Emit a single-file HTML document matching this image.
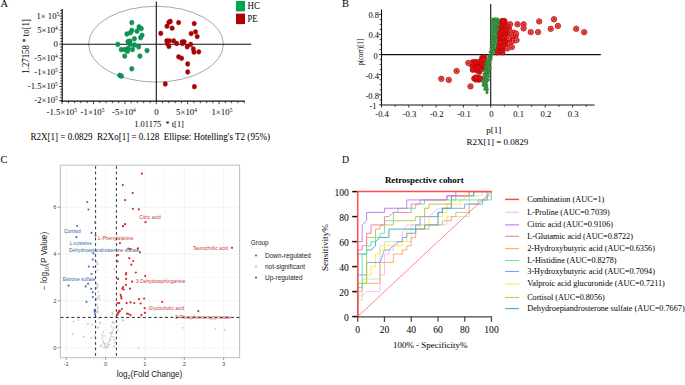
<!DOCTYPE html>
<html><head><meta charset="utf-8"><style>
html,body{margin:0;padding:0;background:#fff;width:685px;height:385px;overflow:hidden;}
svg{display:block;}
</style></head><body>
<svg width="685" height="385" viewBox="0 0 685 385">
<rect width="685" height="385" fill="#fff"/>
<text x="0.6" y="7.0" font-size="10.5" text-anchor="start" font-family='"Liberation Serif", serif' fill="#000" font-weight="normal" >A</text>
<ellipse cx="156" cy="44.2" rx="67.4" ry="37.9" fill="none" stroke="#777" stroke-width="0.65"/>
<line x1="62.2" y1="8.9" x2="62.2" y2="101.5" stroke="#111" stroke-width="1.2" />
<line x1="59.2" y1="100.6" x2="62.2" y2="100.6" stroke="#111" stroke-width="0.8" />
<line x1="60.2" y1="97.78" x2="62.2" y2="97.78" stroke="#111" stroke-width="0.8" />
<line x1="60.2" y1="94.96" x2="62.2" y2="94.96" stroke="#111" stroke-width="0.8" />
<line x1="60.2" y1="92.14" x2="62.2" y2="92.14" stroke="#111" stroke-width="0.8" />
<line x1="60.2" y1="89.32" x2="62.2" y2="89.32" stroke="#111" stroke-width="0.8" />
<line x1="59.2" y1="86.5" x2="62.2" y2="86.5" stroke="#111" stroke-width="0.8" />
<line x1="60.2" y1="83.68" x2="62.2" y2="83.68" stroke="#111" stroke-width="0.8" />
<line x1="60.2" y1="80.86" x2="62.2" y2="80.86" stroke="#111" stroke-width="0.8" />
<line x1="60.2" y1="78.04" x2="62.2" y2="78.04" stroke="#111" stroke-width="0.8" />
<line x1="60.2" y1="75.22" x2="62.2" y2="75.22" stroke="#111" stroke-width="0.8" />
<line x1="59.2" y1="72.4" x2="62.2" y2="72.4" stroke="#111" stroke-width="0.8" />
<line x1="60.2" y1="69.58" x2="62.2" y2="69.58" stroke="#111" stroke-width="0.8" />
<line x1="60.2" y1="66.76" x2="62.2" y2="66.76" stroke="#111" stroke-width="0.8" />
<line x1="60.2" y1="63.94" x2="62.2" y2="63.94" stroke="#111" stroke-width="0.8" />
<line x1="60.2" y1="61.12" x2="62.2" y2="61.12" stroke="#111" stroke-width="0.8" />
<line x1="59.2" y1="58.3" x2="62.2" y2="58.3" stroke="#111" stroke-width="0.8" />
<line x1="60.2" y1="55.48" x2="62.2" y2="55.48" stroke="#111" stroke-width="0.8" />
<line x1="60.2" y1="52.66" x2="62.2" y2="52.66" stroke="#111" stroke-width="0.8" />
<line x1="60.2" y1="49.84" x2="62.2" y2="49.84" stroke="#111" stroke-width="0.8" />
<line x1="60.2" y1="47.02" x2="62.2" y2="47.02" stroke="#111" stroke-width="0.8" />
<line x1="59.2" y1="44.2" x2="62.2" y2="44.2" stroke="#111" stroke-width="0.8" />
<line x1="60.2" y1="41.38" x2="62.2" y2="41.38" stroke="#111" stroke-width="0.8" />
<line x1="60.2" y1="38.56" x2="62.2" y2="38.56" stroke="#111" stroke-width="0.8" />
<line x1="60.2" y1="35.74" x2="62.2" y2="35.74" stroke="#111" stroke-width="0.8" />
<line x1="60.2" y1="32.92" x2="62.2" y2="32.92" stroke="#111" stroke-width="0.8" />
<line x1="59.2" y1="30.1" x2="62.2" y2="30.1" stroke="#111" stroke-width="0.8" />
<line x1="60.2" y1="27.28" x2="62.2" y2="27.28" stroke="#111" stroke-width="0.8" />
<line x1="60.2" y1="24.46" x2="62.2" y2="24.46" stroke="#111" stroke-width="0.8" />
<line x1="60.2" y1="21.64" x2="62.2" y2="21.64" stroke="#111" stroke-width="0.8" />
<line x1="60.2" y1="18.82" x2="62.2" y2="18.82" stroke="#111" stroke-width="0.8" />
<line x1="59.2" y1="16.0" x2="62.2" y2="16.0" stroke="#111" stroke-width="0.8" />
<line x1="60.2" y1="13.18" x2="62.2" y2="13.18" stroke="#111" stroke-width="0.8" />
<line x1="60.2" y1="10.36" x2="62.2" y2="10.36" stroke="#111" stroke-width="0.8" />
<line x1="60.8" y1="101.2" x2="244.7" y2="101.2" stroke="#111" stroke-width="1.2" />
<line x1="62.1" y1="101" x2="62.1" y2="104.2" stroke="#111" stroke-width="0.8" />
<line x1="68.38" y1="101" x2="68.38" y2="103.2" stroke="#111" stroke-width="0.8" />
<line x1="74.66" y1="101" x2="74.66" y2="103.2" stroke="#111" stroke-width="0.8" />
<line x1="80.94" y1="101" x2="80.94" y2="103.2" stroke="#111" stroke-width="0.8" />
<line x1="87.22" y1="101" x2="87.22" y2="103.2" stroke="#111" stroke-width="0.8" />
<line x1="93.5" y1="101" x2="93.5" y2="104.2" stroke="#111" stroke-width="0.8" />
<line x1="99.78" y1="101" x2="99.78" y2="103.2" stroke="#111" stroke-width="0.8" />
<line x1="106.06" y1="101" x2="106.06" y2="103.2" stroke="#111" stroke-width="0.8" />
<line x1="112.34" y1="101" x2="112.34" y2="103.2" stroke="#111" stroke-width="0.8" />
<line x1="118.62" y1="101" x2="118.62" y2="103.2" stroke="#111" stroke-width="0.8" />
<line x1="124.9" y1="101" x2="124.9" y2="104.2" stroke="#111" stroke-width="0.8" />
<line x1="131.18" y1="101" x2="131.18" y2="103.2" stroke="#111" stroke-width="0.8" />
<line x1="137.46" y1="101" x2="137.46" y2="103.2" stroke="#111" stroke-width="0.8" />
<line x1="143.74" y1="101" x2="143.74" y2="103.2" stroke="#111" stroke-width="0.8" />
<line x1="150.02" y1="101" x2="150.02" y2="103.2" stroke="#111" stroke-width="0.8" />
<line x1="156.3" y1="101" x2="156.3" y2="104.2" stroke="#111" stroke-width="0.8" />
<line x1="162.58" y1="101" x2="162.58" y2="103.2" stroke="#111" stroke-width="0.8" />
<line x1="168.86" y1="101" x2="168.86" y2="103.2" stroke="#111" stroke-width="0.8" />
<line x1="175.14" y1="101" x2="175.14" y2="103.2" stroke="#111" stroke-width="0.8" />
<line x1="181.42" y1="101" x2="181.42" y2="103.2" stroke="#111" stroke-width="0.8" />
<line x1="187.7" y1="101" x2="187.7" y2="104.2" stroke="#111" stroke-width="0.8" />
<line x1="193.98" y1="101" x2="193.98" y2="103.2" stroke="#111" stroke-width="0.8" />
<line x1="200.26" y1="101" x2="200.26" y2="103.2" stroke="#111" stroke-width="0.8" />
<line x1="206.54" y1="101" x2="206.54" y2="103.2" stroke="#111" stroke-width="0.8" />
<line x1="212.82" y1="101" x2="212.82" y2="103.2" stroke="#111" stroke-width="0.8" />
<line x1="219.1" y1="101" x2="219.1" y2="104.2" stroke="#111" stroke-width="0.8" />
<line x1="225.38" y1="101" x2="225.38" y2="103.2" stroke="#111" stroke-width="0.8" />
<line x1="231.66" y1="101" x2="231.66" y2="103.2" stroke="#111" stroke-width="0.8" />
<line x1="237.94" y1="101" x2="237.94" y2="103.2" stroke="#111" stroke-width="0.8" />
<line x1="244.22" y1="101" x2="244.22" y2="103.2" stroke="#111" stroke-width="0.8" />
<line x1="62.2" y1="44.2" x2="251.2" y2="44.2" stroke="#111" stroke-width="1.1" />
<line x1="156.3" y1="1.6" x2="156.3" y2="101" stroke="#111" stroke-width="1.1" />
<text x="36.4" y="18.7" font-size="8.7" text-anchor="start" font-family='"Liberation Serif", serif' fill="#000" font-weight="normal" >1× 10<tspan font-size="5.4" dy="-3">5</tspan></text>
<text x="57.8" y="32.9" font-size="8.7" text-anchor="end" font-family='"Liberation Serif", serif' fill="#000" font-weight="normal" >5×10<tspan font-size="5.4" dy="-3.0">4</tspan></text>
<text x="57.8" y="47.0" font-size="8.7" text-anchor="end" font-family='"Liberation Serif", serif' fill="#000" font-weight="normal" >0</text>
<text x="57.8" y="61.1" font-size="8.7" text-anchor="end" font-family='"Liberation Serif", serif' fill="#000" font-weight="normal" >-5×10<tspan font-size="5.4" dy="-3.0">4</tspan></text>
<text x="57.8" y="75.2" font-size="8.7" text-anchor="end" font-family='"Liberation Serif", serif' fill="#000" font-weight="normal" >-1×10<tspan font-size="5.4" dy="-3.0">5</tspan></text>
<text x="57.8" y="89.3" font-size="8.7" text-anchor="end" font-family='"Liberation Serif", serif' fill="#000" font-weight="normal" >-1.5×10<tspan font-size="5.4" dy="-3.0">5</tspan></text>
<text x="57.8" y="103.4" font-size="8.7" text-anchor="end" font-family='"Liberation Serif", serif' fill="#000" font-weight="normal" >-2×10<tspan font-size="5.4" dy="-3.0">5</tspan></text>
<text x="61.7" y="115.0" font-size="8.8" text-anchor="middle" font-family='"Liberation Serif", serif' fill="#000" font-weight="normal" >-1.5×10<tspan font-size="5.4" dy="-3.0">5</tspan></text>
<text x="92.5" y="115.0" font-size="8.8" text-anchor="middle" font-family='"Liberation Serif", serif' fill="#000" font-weight="normal" >-1×10<tspan font-size="5.4" dy="-3.0">5</tspan></text>
<text x="123.9" y="115.0" font-size="8.8" text-anchor="middle" font-family='"Liberation Serif", serif' fill="#000" font-weight="normal" >-5×10<tspan font-size="5.4" dy="-3.0">4</tspan></text>
<text x="156.4" y="115.0" font-size="8.8" text-anchor="middle" font-family='"Liberation Serif", serif' fill="#000" font-weight="normal" >0</text>
<text x="186.5" y="115.0" font-size="8.8" text-anchor="middle" font-family='"Liberation Serif", serif' fill="#000" font-weight="normal" >5×10<tspan font-size="5.4" dy="-3.0">4</tspan></text>
<text x="221.9" y="115.0" font-size="8.8" text-anchor="middle" font-family='"Liberation Serif", serif' fill="#000" font-weight="normal" >1×10<tspan font-size="5.4" dy="-3.0">5</tspan></text>
<text x="134.3" y="127.1" font-size="9" text-anchor="start" font-family='"Liberation Serif", serif' fill="#000" font-weight="normal" textLength="49.6" lengthAdjust="spacingAndGlyphs">1.01175&#160; * t[1]</text>
<text transform="translate(28.8,46.4) rotate(-90)" font-size="9.6" text-anchor="middle" font-family='"Liberation Serif", serif' textLength="54.7" lengthAdjust="spacingAndGlyphs">1.27158 * to[1]</text>
<text x="30.4" y="140.4" font-size="9.4" text-anchor="start" font-family='"Liberation Serif", serif' fill="#000" font-weight="normal" textLength="239.6" lengthAdjust="spacingAndGlyphs">R2X[1] = 0.0829&#160; R2Xo[1] = 0.128&#160; Ellipse: Hotelling's T2 (95%)</text>
<rect x="236" y="1" width="9" height="10.4" fill="#00a651"/>
<rect x="236" y="13.6" width="9" height="10.5" fill="#b20000"/>
<text x="247.5" y="8.9" font-size="9.8" text-anchor="start" font-family='"Liberation Serif", serif' fill="#000" font-weight="normal" textLength="12.4" lengthAdjust="spacingAndGlyphs">HC</text>
<text x="247.5" y="22.0" font-size="9.9" text-anchor="start" font-family='"Liberation Serif", serif' fill="#000" font-weight="normal" textLength="10.1" lengthAdjust="spacingAndGlyphs">PE</text>
<ellipse cx="131.8" cy="22.6" rx="2.2" ry="2.4" fill="#00a04a" stroke="#1a6b5a" stroke-width="0.5"/>
<ellipse cx="139" cy="26.9" rx="2.2" ry="2.4" fill="#00a04a" stroke="#1a6b5a" stroke-width="0.5"/>
<ellipse cx="141.3" cy="28.6" rx="2.2" ry="2.4" fill="#00a04a" stroke="#1a6b5a" stroke-width="0.5"/>
<ellipse cx="131.8" cy="30.5" rx="2.2" ry="2.4" fill="#00a04a" stroke="#1a6b5a" stroke-width="0.5"/>
<ellipse cx="137" cy="31.2" rx="2.2" ry="2.4" fill="#00a04a" stroke="#1a6b5a" stroke-width="0.5"/>
<ellipse cx="130.5" cy="32.7" rx="2.2" ry="2.4" fill="#00a04a" stroke="#1a6b5a" stroke-width="0.5"/>
<ellipse cx="126.9" cy="34" rx="2.2" ry="2.4" fill="#00a04a" stroke="#1a6b5a" stroke-width="0.5"/>
<ellipse cx="142" cy="35.3" rx="2.2" ry="2.4" fill="#00a04a" stroke="#1a6b5a" stroke-width="0.5"/>
<ellipse cx="140.6" cy="37.7" rx="2.2" ry="2.4" fill="#00a04a" stroke="#1a6b5a" stroke-width="0.5"/>
<ellipse cx="134.4" cy="38.8" rx="2.2" ry="2.4" fill="#00a04a" stroke="#1a6b5a" stroke-width="0.5"/>
<ellipse cx="127.9" cy="41.6" rx="2.2" ry="2.4" fill="#00a04a" stroke="#1a6b5a" stroke-width="0.5"/>
<ellipse cx="129.9" cy="41.2" rx="2.2" ry="2.4" fill="#00a04a" stroke="#1a6b5a" stroke-width="0.5"/>
<ellipse cx="117.8" cy="44.4" rx="2.2" ry="2.4" fill="#00a04a" stroke="#1a6b5a" stroke-width="0.5"/>
<ellipse cx="130.3" cy="44.4" rx="2.2" ry="2.4" fill="#00a04a" stroke="#1a6b5a" stroke-width="0.5"/>
<ellipse cx="134.4" cy="45" rx="2.2" ry="2.4" fill="#00a04a" stroke="#1a6b5a" stroke-width="0.5"/>
<ellipse cx="138.6" cy="46.8" rx="2.2" ry="2.4" fill="#00a04a" stroke="#1a6b5a" stroke-width="0.5"/>
<ellipse cx="121.2" cy="49.6" rx="2.2" ry="2.4" fill="#00a04a" stroke="#1a6b5a" stroke-width="0.5"/>
<ellipse cx="124.7" cy="49.6" rx="2.2" ry="2.4" fill="#00a04a" stroke="#1a6b5a" stroke-width="0.5"/>
<ellipse cx="127.9" cy="48.3" rx="2.2" ry="2.4" fill="#00a04a" stroke="#1a6b5a" stroke-width="0.5"/>
<ellipse cx="127.5" cy="51.3" rx="2.2" ry="2.4" fill="#00a04a" stroke="#1a6b5a" stroke-width="0.5"/>
<ellipse cx="132.5" cy="49.6" rx="2.2" ry="2.4" fill="#00a04a" stroke="#1a6b5a" stroke-width="0.5"/>
<ellipse cx="147" cy="50.6" rx="2.2" ry="2.4" fill="#00a04a" stroke="#1a6b5a" stroke-width="0.5"/>
<ellipse cx="124.7" cy="56.1" rx="2.2" ry="2.4" fill="#00a04a" stroke="#1a6b5a" stroke-width="0.5"/>
<ellipse cx="139.9" cy="56.1" rx="2.2" ry="2.4" fill="#00a04a" stroke="#1a6b5a" stroke-width="0.5"/>
<ellipse cx="131.8" cy="68.8" rx="2.2" ry="2.4" fill="#00a04a" stroke="#1a6b5a" stroke-width="0.5"/>
<ellipse cx="119.7" cy="75.3" rx="2.2" ry="2.4" fill="#00a04a" stroke="#1a6b5a" stroke-width="0.5"/>
<ellipse cx="121.4" cy="76.2" rx="2.2" ry="2.4" fill="#00a04a" stroke="#1a6b5a" stroke-width="0.5"/>
<ellipse cx="170.3" cy="21.4" rx="2.2" ry="2.4" fill="#b00000" stroke="#800000" stroke-width="0.4"/>
<ellipse cx="168.9" cy="22.3" rx="2.2" ry="2.4" fill="#b00000" stroke="#800000" stroke-width="0.4"/>
<ellipse cx="178.6" cy="22.6" rx="2.2" ry="2.4" fill="#b00000" stroke="#800000" stroke-width="0.4"/>
<ellipse cx="194.2" cy="23.6" rx="2.2" ry="2.4" fill="#b00000" stroke="#800000" stroke-width="0.4"/>
<ellipse cx="167" cy="26.2" rx="2.2" ry="2.4" fill="#b00000" stroke="#800000" stroke-width="0.4"/>
<ellipse cx="172.1" cy="28.2" rx="2.2" ry="2.4" fill="#b00000" stroke="#800000" stroke-width="0.4"/>
<ellipse cx="160.8" cy="33.4" rx="2.2" ry="2.4" fill="#b00000" stroke="#800000" stroke-width="0.4"/>
<ellipse cx="191.1" cy="33.6" rx="2.2" ry="2.4" fill="#b00000" stroke="#800000" stroke-width="0.4"/>
<ellipse cx="195.5" cy="31.8" rx="2.2" ry="2.4" fill="#b00000" stroke="#800000" stroke-width="0.4"/>
<ellipse cx="197.2" cy="36.6" rx="2.2" ry="2.4" fill="#b00000" stroke="#800000" stroke-width="0.4"/>
<ellipse cx="166.7" cy="40.8" rx="2.2" ry="2.4" fill="#b00000" stroke="#800000" stroke-width="0.4"/>
<ellipse cx="169.3" cy="40.8" rx="2.2" ry="2.4" fill="#b00000" stroke="#800000" stroke-width="0.4"/>
<ellipse cx="173.6" cy="40.8" rx="2.2" ry="2.4" fill="#b00000" stroke="#800000" stroke-width="0.4"/>
<ellipse cx="176.7" cy="43.5" rx="2.2" ry="2.4" fill="#b00000" stroke="#800000" stroke-width="0.4"/>
<ellipse cx="182.3" cy="41.8" rx="2.2" ry="2.4" fill="#b00000" stroke="#800000" stroke-width="0.4"/>
<ellipse cx="184.2" cy="41.8" rx="2.2" ry="2.4" fill="#b00000" stroke="#800000" stroke-width="0.4"/>
<ellipse cx="167.3" cy="43.5" rx="2.2" ry="2.4" fill="#b00000" stroke="#800000" stroke-width="0.4"/>
<ellipse cx="168.9" cy="46.4" rx="2.2" ry="2.4" fill="#b00000" stroke="#800000" stroke-width="0.4"/>
<ellipse cx="182.5" cy="43.5" rx="2.2" ry="2.4" fill="#b00000" stroke="#800000" stroke-width="0.4"/>
<ellipse cx="187.2" cy="46.8" rx="2.2" ry="2.4" fill="#b00000" stroke="#800000" stroke-width="0.4"/>
<ellipse cx="190.7" cy="44.4" rx="2.2" ry="2.4" fill="#b00000" stroke="#800000" stroke-width="0.4"/>
<ellipse cx="193.3" cy="49" rx="2.2" ry="2.4" fill="#b00000" stroke="#800000" stroke-width="0.4"/>
<ellipse cx="194" cy="52.2" rx="2.2" ry="2.4" fill="#b00000" stroke="#800000" stroke-width="0.4"/>
<ellipse cx="198.8" cy="51.8" rx="2.2" ry="2.4" fill="#b00000" stroke="#800000" stroke-width="0.4"/>
<ellipse cx="178.6" cy="56.8" rx="2.2" ry="2.4" fill="#b00000" stroke="#800000" stroke-width="0.4"/>
<ellipse cx="181.6" cy="58.3" rx="2.2" ry="2.4" fill="#b00000" stroke="#800000" stroke-width="0.4"/>
<ellipse cx="187.7" cy="64" rx="2.2" ry="2.4" fill="#b00000" stroke="#800000" stroke-width="0.4"/>
<ellipse cx="187.7" cy="72" rx="2.2" ry="2.4" fill="#b00000" stroke="#800000" stroke-width="0.4"/>
<ellipse cx="165.3" cy="84" rx="2.2" ry="2.4" fill="#b00000" stroke="#800000" stroke-width="0.4"/>
<ellipse cx="194.4" cy="86.7" rx="2.2" ry="2.4" fill="#b00000" stroke="#800000" stroke-width="0.4"/>
<text x="342.0" y="6.8" font-size="10.5" text-anchor="start" font-family='"Liberation Serif", serif' fill="#000" font-weight="normal" >B</text>
<line x1="381.5" y1="9.4" x2="381.5" y2="105.2" stroke="#111" stroke-width="1.1" />
<line x1="378.9" y1="104.85" x2="381.5" y2="104.85" stroke="#111" stroke-width="0.8" />
<line x1="379.7" y1="99.83" x2="381.5" y2="99.83" stroke="#111" stroke-width="0.8" />
<line x1="378.9" y1="94.8" x2="381.5" y2="94.8" stroke="#111" stroke-width="0.8" />
<line x1="379.7" y1="89.78" x2="381.5" y2="89.78" stroke="#111" stroke-width="0.8" />
<line x1="379.7" y1="84.75" x2="381.5" y2="84.75" stroke="#111" stroke-width="0.8" />
<line x1="379.7" y1="79.72" x2="381.5" y2="79.72" stroke="#111" stroke-width="0.8" />
<line x1="378.9" y1="74.7" x2="381.5" y2="74.7" stroke="#111" stroke-width="0.8" />
<line x1="379.7" y1="69.67" x2="381.5" y2="69.67" stroke="#111" stroke-width="0.8" />
<line x1="379.7" y1="64.65" x2="381.5" y2="64.65" stroke="#111" stroke-width="0.8" />
<line x1="379.7" y1="59.62" x2="381.5" y2="59.62" stroke="#111" stroke-width="0.8" />
<line x1="378.9" y1="54.6" x2="381.5" y2="54.6" stroke="#111" stroke-width="0.8" />
<line x1="379.7" y1="49.58" x2="381.5" y2="49.58" stroke="#111" stroke-width="0.8" />
<line x1="379.7" y1="44.55" x2="381.5" y2="44.55" stroke="#111" stroke-width="0.8" />
<line x1="379.7" y1="39.53" x2="381.5" y2="39.53" stroke="#111" stroke-width="0.8" />
<line x1="378.9" y1="34.5" x2="381.5" y2="34.5" stroke="#111" stroke-width="0.8" />
<line x1="379.7" y1="29.48" x2="381.5" y2="29.48" stroke="#111" stroke-width="0.8" />
<line x1="379.7" y1="24.45" x2="381.5" y2="24.45" stroke="#111" stroke-width="0.8" />
<line x1="379.7" y1="19.43" x2="381.5" y2="19.43" stroke="#111" stroke-width="0.8" />
<line x1="378.9" y1="14.4" x2="381.5" y2="14.4" stroke="#111" stroke-width="0.8" />
<text x="379.0" y="18.3" font-size="8.5" text-anchor="end" font-family='"Liberation Serif", serif' fill="#000" font-weight="normal" >0.8</text>
<text x="379.0" y="38.4" font-size="8.5" text-anchor="end" font-family='"Liberation Serif", serif' fill="#000" font-weight="normal" >0.4</text>
<text x="377.8" y="58.5" font-size="8.5" text-anchor="end" font-family='"Liberation Serif", serif' fill="#000" font-weight="normal" >0</text>
<text x="379.0" y="78.6" font-size="8.5" text-anchor="end" font-family='"Liberation Serif", serif' fill="#000" font-weight="normal" >-0.4</text>
<text x="379.0" y="98.7" font-size="8.5" text-anchor="end" font-family='"Liberation Serif", serif' fill="#000" font-weight="normal" >-0.8</text>
<text x="376.6" y="108.75" font-size="8.5" text-anchor="end" font-family='"Liberation Serif", serif' fill="#000" font-weight="normal" >-1</text>
<line x1="381.0" y1="105.0" x2="594.5" y2="105.0" stroke="#111" stroke-width="1.1" />
<line x1="381.5" y1="105.0" x2="381.5" y2="107.6" stroke="#111" stroke-width="0.8" />
<line x1="395.15" y1="105.0" x2="395.15" y2="106.8" stroke="#111" stroke-width="0.8" />
<line x1="408.8" y1="105.0" x2="408.8" y2="107.6" stroke="#111" stroke-width="0.8" />
<line x1="422.45" y1="105.0" x2="422.45" y2="106.8" stroke="#111" stroke-width="0.8" />
<line x1="436.1" y1="105.0" x2="436.1" y2="107.6" stroke="#111" stroke-width="0.8" />
<line x1="449.75" y1="105.0" x2="449.75" y2="106.8" stroke="#111" stroke-width="0.8" />
<line x1="463.4" y1="105.0" x2="463.4" y2="107.6" stroke="#111" stroke-width="0.8" />
<line x1="477.05" y1="105.0" x2="477.05" y2="106.8" stroke="#111" stroke-width="0.8" />
<line x1="490.7" y1="105.0" x2="490.7" y2="107.6" stroke="#111" stroke-width="0.8" />
<line x1="504.35" y1="105.0" x2="504.35" y2="106.8" stroke="#111" stroke-width="0.8" />
<line x1="518.0" y1="105.0" x2="518.0" y2="107.6" stroke="#111" stroke-width="0.8" />
<line x1="531.65" y1="105.0" x2="531.65" y2="106.8" stroke="#111" stroke-width="0.8" />
<line x1="545.3" y1="105.0" x2="545.3" y2="107.6" stroke="#111" stroke-width="0.8" />
<line x1="558.95" y1="105.0" x2="558.95" y2="106.8" stroke="#111" stroke-width="0.8" />
<line x1="572.6" y1="105.0" x2="572.6" y2="107.6" stroke="#111" stroke-width="0.8" />
<line x1="586.25" y1="105.0" x2="586.25" y2="106.8" stroke="#111" stroke-width="0.8" />
<text x="382.1" y="117.0" font-size="8.6" text-anchor="middle" font-family='"Liberation Serif", serif' fill="#000" font-weight="normal" >-0.4</text>
<text x="409.4" y="117.0" font-size="8.6" text-anchor="middle" font-family='"Liberation Serif", serif' fill="#000" font-weight="normal" >-0.3</text>
<text x="436.7" y="117.0" font-size="8.6" text-anchor="middle" font-family='"Liberation Serif", serif' fill="#000" font-weight="normal" >-0.2</text>
<text x="464.0" y="117.0" font-size="8.6" text-anchor="middle" font-family='"Liberation Serif", serif' fill="#000" font-weight="normal" >-0.1</text>
<text x="491.3" y="117.0" font-size="8.6" text-anchor="middle" font-family='"Liberation Serif", serif' fill="#000" font-weight="normal" >0</text>
<text x="518.6" y="117.0" font-size="8.6" text-anchor="middle" font-family='"Liberation Serif", serif' fill="#000" font-weight="normal" >0.1</text>
<text x="545.9" y="117.0" font-size="8.6" text-anchor="middle" font-family='"Liberation Serif", serif' fill="#000" font-weight="normal" >0.2</text>
<text x="573.2" y="117.0" font-size="8.6" text-anchor="middle" font-family='"Liberation Serif", serif' fill="#000" font-weight="normal" >0.3</text>
<text x="486.3" y="132.5" font-size="9" text-anchor="start" font-family='"Liberation Serif", serif' fill="#000" font-weight="normal" >p[1]</text>
<text x="466.4" y="144.8" font-size="9" text-anchor="start" font-family='"Liberation Serif", serif' fill="#000" font-weight="normal" >R2X[1] = 0.0829</text>
<text transform="translate(362.7,52.2) rotate(-90)" font-size="8.5" text-anchor="middle" font-family='"Liberation Serif", serif' textLength="26.8" lengthAdjust="spacingAndGlyphs">p(corr)[1]</text>
<line x1="381.5" y1="54.6" x2="600.8" y2="54.6" stroke="#111" stroke-width="1.1" />
<line x1="490.7" y1="3.9" x2="490.7" y2="105" stroke="#111" stroke-width="1.1" />
<circle cx="505.2" cy="38.8" r="2.6" fill="#cc2222" stroke="#bb0000" stroke-width="0.8"/>
<circle cx="510.7" cy="41.0" r="2.6" fill="#dc6464" stroke="#c00a0a" stroke-width="0.85"/>
<circle cx="507.0" cy="42.0" r="2.6" fill="#cc2222" stroke="#bb0000" stroke-width="0.8"/>
<circle cx="505.3" cy="27.8" r="2.6" fill="#cc2222" stroke="#bb0000" stroke-width="0.8"/>
<circle cx="501.5" cy="26.0" r="2.6" fill="#cc2222" stroke="#bb0000" stroke-width="0.8"/>
<circle cx="513.7" cy="32.6" r="2.6" fill="#dc6464" stroke="#c00a0a" stroke-width="0.85"/>
<circle cx="508.1" cy="34.4" r="2.6" fill="#dc6464" stroke="#c00a0a" stroke-width="0.85"/>
<circle cx="498.7" cy="32.4" r="2.6" fill="#cc2222" stroke="#bb0000" stroke-width="0.8"/>
<circle cx="499.6" cy="40.5" r="2.6" fill="#cc2222" stroke="#bb0000" stroke-width="0.8"/>
<circle cx="503.0" cy="34.7" r="2.6" fill="#cc2222" stroke="#bb0000" stroke-width="0.8"/>
<circle cx="499.7" cy="24.4" r="2.6" fill="#cc2222" stroke="#bb0000" stroke-width="0.8"/>
<circle cx="504.4" cy="21.0" r="2.6" fill="#cc2222" stroke="#bb0000" stroke-width="0.8"/>
<circle cx="499.4" cy="44.5" r="2.6" fill="#cc2222" stroke="#bb0000" stroke-width="0.8"/>
<circle cx="499.9" cy="49.1" r="2.6" fill="#cc2222" stroke="#bb0000" stroke-width="0.8"/>
<circle cx="509.1" cy="28.4" r="2.6" fill="#dc6464" stroke="#c00a0a" stroke-width="0.85"/>
<circle cx="506.0" cy="45.5" r="2.6" fill="#dc6464" stroke="#c00a0a" stroke-width="0.85"/>
<circle cx="502.5" cy="43.7" r="2.6" fill="#cc2222" stroke="#bb0000" stroke-width="0.8"/>
<circle cx="509.9" cy="31.9" r="2.6" fill="#dc6464" stroke="#c00a0a" stroke-width="0.85"/>
<circle cx="505.8" cy="24.0" r="2.6" fill="#cc2222" stroke="#bb0000" stroke-width="0.8"/>
<circle cx="500.4" cy="30.5" r="2.6" fill="#cc2222" stroke="#bb0000" stroke-width="0.8"/>
<circle cx="503.6" cy="47.9" r="2.6" fill="#cc2222" stroke="#bb0000" stroke-width="0.8"/>
<circle cx="503.2" cy="39.2" r="2.6" fill="#cc2222" stroke="#bb0000" stroke-width="0.8"/>
<circle cx="499.0" cy="37.5" r="2.6" fill="#cc2222" stroke="#bb0000" stroke-width="0.8"/>
<circle cx="500.3" cy="35.5" r="2.6" fill="#cc2222" stroke="#bb0000" stroke-width="0.8"/>
<circle cx="502.6" cy="41.2" r="2.6" fill="#cc2222" stroke="#bb0000" stroke-width="0.8"/>
<circle cx="502.9" cy="28.1" r="2.6" fill="#cc2222" stroke="#bb0000" stroke-width="0.8"/>
<circle cx="505.0" cy="43.0" r="2.6" fill="#cc2222" stroke="#bb0000" stroke-width="0.8"/>
<circle cx="514.0" cy="37.7" r="2.6" fill="#dc6464" stroke="#c00a0a" stroke-width="0.85"/>
<circle cx="504.5" cy="31.4" r="2.6" fill="#cc2222" stroke="#bb0000" stroke-width="0.8"/>
<circle cx="500.6" cy="22.6" r="2.6" fill="#cc2222" stroke="#bb0000" stroke-width="0.8"/>
<circle cx="501.6" cy="32.6" r="2.6" fill="#cc2222" stroke="#bb0000" stroke-width="0.8"/>
<circle cx="499.0" cy="46.8" r="2.6" fill="#cc2222" stroke="#bb0000" stroke-width="0.8"/>
<circle cx="503.1" cy="23.5" r="2.6" fill="#cc2222" stroke="#bb0000" stroke-width="0.8"/>
<circle cx="506.0" cy="35.3" r="2.6" fill="#cc2222" stroke="#bb0000" stroke-width="0.8"/>
<circle cx="505.7" cy="33.0" r="2.6" fill="#cc2222" stroke="#bb0000" stroke-width="0.8"/>
<circle cx="509.8" cy="43.9" r="2.6" fill="#dc6464" stroke="#c00a0a" stroke-width="0.85"/>
<circle cx="499.0" cy="29.0" r="2.6" fill="#cc2222" stroke="#bb0000" stroke-width="0.8"/>
<circle cx="502.8" cy="30.1" r="2.6" fill="#cc2222" stroke="#bb0000" stroke-width="0.8"/>
<circle cx="501.8" cy="47.1" r="2.6" fill="#cc2222" stroke="#bb0000" stroke-width="0.8"/>
<circle cx="503.6" cy="26.3" r="2.6" fill="#cc2222" stroke="#bb0000" stroke-width="0.8"/>
<circle cx="499.4" cy="26.7" r="2.6" fill="#cc2222" stroke="#bb0000" stroke-width="0.8"/>
<circle cx="511.6" cy="34.7" r="2.6" fill="#dc6464" stroke="#c00a0a" stroke-width="0.85"/>
<circle cx="515.8" cy="35.1" r="2.6" fill="#dc6464" stroke="#c00a0a" stroke-width="0.85"/>
<circle cx="508.2" cy="38.2" r="2.6" fill="#dc6464" stroke="#c00a0a" stroke-width="0.85"/>
<circle cx="513.8" cy="40.7" r="2.6" fill="#dc6464" stroke="#c00a0a" stroke-width="0.85"/>
<circle cx="502.1" cy="21.1" r="2.6" fill="#cc2222" stroke="#bb0000" stroke-width="0.8"/>
<circle cx="504.7" cy="41.0" r="2.6" fill="#cc2222" stroke="#bb0000" stroke-width="0.8"/>
<circle cx="500.9" cy="38.5" r="2.6" fill="#cc2222" stroke="#bb0000" stroke-width="0.8"/>
<circle cx="503.9" cy="37.3" r="2.6" fill="#cc2222" stroke="#bb0000" stroke-width="0.8"/>
<circle cx="500.1" cy="42.4" r="2.6" fill="#cc2222" stroke="#bb0000" stroke-width="0.8"/>
<circle cx="504.0" cy="45.9" r="2.6" fill="#cc2222" stroke="#bb0000" stroke-width="0.8"/>
<circle cx="509.1" cy="25.0" r="2.6" fill="#dc6464" stroke="#c00a0a" stroke-width="0.85"/>
<circle cx="505.9" cy="29.9" r="2.6" fill="#cc2222" stroke="#bb0000" stroke-width="0.8"/>
<circle cx="510.1" cy="24.3" r="2.7" fill="#d85a5a" stroke="#c41c1c" stroke-width="0.9"/>
<circle cx="517.5" cy="24.3" r="2.7" fill="#d85a5a" stroke="#c41c1c" stroke-width="0.9"/>
<circle cx="523.6" cy="24.3" r="2.7" fill="#d85a5a" stroke="#c41c1c" stroke-width="0.9"/>
<circle cx="523.6" cy="28.4" r="2.7" fill="#d85a5a" stroke="#c41c1c" stroke-width="0.9"/>
<circle cx="530.7" cy="32.1" r="2.7" fill="#d85a5a" stroke="#c41c1c" stroke-width="0.9"/>
<circle cx="538.1" cy="32.1" r="2.7" fill="#d85a5a" stroke="#c41c1c" stroke-width="0.9"/>
<circle cx="539.2" cy="21.4" r="2.7" fill="#d85a5a" stroke="#c41c1c" stroke-width="0.9"/>
<circle cx="554.0" cy="19.3" r="2.7" fill="#d85a5a" stroke="#c41c1c" stroke-width="0.9"/>
<circle cx="557.9" cy="26.0" r="2.7" fill="#d85a5a" stroke="#c41c1c" stroke-width="0.9"/>
<circle cx="550.7" cy="28.8" r="2.7" fill="#d85a5a" stroke="#c41c1c" stroke-width="0.9"/>
<circle cx="576.2" cy="28.8" r="2.7" fill="#d85a5a" stroke="#c41c1c" stroke-width="0.9"/>
<circle cx="584.2" cy="32.2" r="2.7" fill="#d85a5a" stroke="#c41c1c" stroke-width="0.9"/>
<circle cx="511.9" cy="47.1" r="2.6" fill="#dc6464" stroke="#c00a0a" stroke-width="0.85"/>
<circle cx="502.5" cy="52.4" r="2.6" fill="#cc2222" stroke="#bb0000" stroke-width="0.8"/>
<circle cx="516.0" cy="33.6" r="2.6" fill="#dc6464" stroke="#c00a0a" stroke-width="0.85"/>
<circle cx="516.6" cy="40.1" r="2.6" fill="#dc6464" stroke="#c00a0a" stroke-width="0.85"/>
<circle cx="502.8" cy="20.9" r="2.6" fill="#cc2222" stroke="#bb0000" stroke-width="0.8"/>
<circle cx="497.5" cy="52.5" r="2.6" fill="#cc2222" stroke="#bb0000" stroke-width="0.8"/>
<circle cx="496.2" cy="50.2" r="2.6" fill="#cc2222" stroke="#bb0000" stroke-width="0.8"/>
<circle cx="507.5" cy="48.5" r="2.6" fill="#dc6464" stroke="#c00a0a" stroke-width="0.85"/>
<circle cx="484.5" cy="57.2" r="2.6" fill="#cc2222" stroke="#bb0000" stroke-width="0.8"/>
<circle cx="482.2" cy="57.8" r="2.6" fill="#cc2222" stroke="#bb0000" stroke-width="0.8"/>
<circle cx="476.5" cy="70.2" r="2.6" fill="#cc2222" stroke="#bb0000" stroke-width="0.8"/>
<circle cx="477.1" cy="63.7" r="2.6" fill="#cc2222" stroke="#bb0000" stroke-width="0.8"/>
<circle cx="479.6" cy="66.9" r="2.6" fill="#cc2222" stroke="#bb0000" stroke-width="0.8"/>
<circle cx="482.5" cy="66.1" r="2.6" fill="#cc2222" stroke="#bb0000" stroke-width="0.8"/>
<circle cx="479.3" cy="71.7" r="2.6" fill="#cc2222" stroke="#bb0000" stroke-width="0.8"/>
<circle cx="483.2" cy="68.3" r="2.6" fill="#cc2222" stroke="#bb0000" stroke-width="0.8"/>
<circle cx="482.2" cy="61.1" r="2.6" fill="#cc2222" stroke="#bb0000" stroke-width="0.8"/>
<circle cx="481.4" cy="63.4" r="2.6" fill="#cc2222" stroke="#bb0000" stroke-width="0.8"/>
<circle cx="472.8" cy="62.2" r="2.6" fill="#cc2222" stroke="#bb0000" stroke-width="0.8"/>
<circle cx="473.4" cy="66.6" r="2.6" fill="#cc2222" stroke="#bb0000" stroke-width="0.8"/>
<circle cx="480.3" cy="69.5" r="2.6" fill="#cc2222" stroke="#bb0000" stroke-width="0.8"/>
<circle cx="474.1" cy="64.2" r="2.6" fill="#cc2222" stroke="#bb0000" stroke-width="0.8"/>
<circle cx="475.2" cy="68.2" r="2.6" fill="#cc2222" stroke="#bb0000" stroke-width="0.8"/>
<circle cx="479.8" cy="61.6" r="2.6" fill="#cc2222" stroke="#bb0000" stroke-width="0.8"/>
<circle cx="475.5" cy="61.9" r="2.6" fill="#cc2222" stroke="#bb0000" stroke-width="0.8"/>
<circle cx="472.7" cy="69.8" r="2.6" fill="#cc2222" stroke="#bb0000" stroke-width="0.8"/>
<circle cx="471.7" cy="64.7" r="2.6" fill="#cc2222" stroke="#bb0000" stroke-width="0.8"/>
<circle cx="477.4" cy="67.6" r="2.6" fill="#cc2222" stroke="#bb0000" stroke-width="0.8"/>
<circle cx="483.9" cy="63.2" r="2.6" fill="#cc2222" stroke="#bb0000" stroke-width="0.8"/>
<circle cx="483.2" cy="58.9" r="2.6" fill="#cc2222" stroke="#bb0000" stroke-width="0.8"/>
<circle cx="478.9" cy="79.7" r="2.6" fill="#cc2222" stroke="#bb0000" stroke-width="0.8"/>
<circle cx="475.9" cy="79.6" r="2.6" fill="#cc2222" stroke="#bb0000" stroke-width="0.8"/>
<circle cx="474.2" cy="78.4" r="2.6" fill="#cc2222" stroke="#bb0000" stroke-width="0.8"/>
<circle cx="478.1" cy="77.7" r="2.6" fill="#cc2222" stroke="#bb0000" stroke-width="0.8"/>
<circle cx="480.5" cy="78.4" r="2.6" fill="#cc2222" stroke="#bb0000" stroke-width="0.8"/>
<circle cx="476.0" cy="77.3" r="2.6" fill="#cc2222" stroke="#bb0000" stroke-width="0.8"/>
<circle cx="468.4" cy="63.0" r="2.7" fill="#d85a5a" stroke="#c41c1c" stroke-width="0.9"/>
<circle cx="456.6" cy="71.0" r="2.7" fill="#d85a5a" stroke="#c41c1c" stroke-width="0.9"/>
<circle cx="441.3" cy="78.8" r="2.7" fill="#d85a5a" stroke="#c41c1c" stroke-width="0.9"/>
<circle cx="448.8" cy="79.9" r="2.7" fill="#d85a5a" stroke="#c41c1c" stroke-width="0.9"/>
<circle cx="470.5" cy="86.4" r="2.7" fill="#d85a5a" stroke="#c41c1c" stroke-width="0.9"/>
<circle cx="505.2" cy="38.8" r="0.95" fill="#e00000"/>
<circle cx="510.7" cy="41.0" r="0.95" fill="#e00000"/>
<circle cx="507.0" cy="42.0" r="0.95" fill="#e00000"/>
<circle cx="505.3" cy="27.8" r="0.95" fill="#e00000"/>
<circle cx="501.5" cy="26.0" r="0.95" fill="#e00000"/>
<circle cx="513.7" cy="32.6" r="0.95" fill="#e00000"/>
<circle cx="508.1" cy="34.4" r="0.95" fill="#e00000"/>
<circle cx="498.7" cy="32.4" r="0.95" fill="#e00000"/>
<circle cx="499.6" cy="40.5" r="0.95" fill="#e00000"/>
<circle cx="503.0" cy="34.7" r="0.95" fill="#e00000"/>
<circle cx="499.7" cy="24.4" r="0.95" fill="#e00000"/>
<circle cx="504.4" cy="21.0" r="0.95" fill="#e00000"/>
<circle cx="499.4" cy="44.5" r="0.95" fill="#e00000"/>
<circle cx="499.9" cy="49.1" r="0.95" fill="#e00000"/>
<circle cx="509.1" cy="28.4" r="0.95" fill="#e00000"/>
<circle cx="506.0" cy="45.5" r="0.95" fill="#e00000"/>
<circle cx="502.5" cy="43.7" r="0.95" fill="#e00000"/>
<circle cx="509.9" cy="31.9" r="0.95" fill="#e00000"/>
<circle cx="505.8" cy="24.0" r="0.95" fill="#e00000"/>
<circle cx="500.4" cy="30.5" r="0.95" fill="#e00000"/>
<circle cx="503.6" cy="47.9" r="0.95" fill="#e00000"/>
<circle cx="503.2" cy="39.2" r="0.95" fill="#e00000"/>
<circle cx="499.0" cy="37.5" r="0.95" fill="#e00000"/>
<circle cx="500.3" cy="35.5" r="0.95" fill="#e00000"/>
<circle cx="502.6" cy="41.2" r="0.95" fill="#e00000"/>
<circle cx="502.9" cy="28.1" r="0.95" fill="#e00000"/>
<circle cx="505.0" cy="43.0" r="0.95" fill="#e00000"/>
<circle cx="514.0" cy="37.7" r="0.95" fill="#e00000"/>
<circle cx="504.5" cy="31.4" r="0.95" fill="#e00000"/>
<circle cx="500.6" cy="22.6" r="0.95" fill="#e00000"/>
<circle cx="501.6" cy="32.6" r="0.95" fill="#e00000"/>
<circle cx="499.0" cy="46.8" r="0.95" fill="#e00000"/>
<circle cx="503.1" cy="23.5" r="0.95" fill="#e00000"/>
<circle cx="506.0" cy="35.3" r="0.95" fill="#e00000"/>
<circle cx="505.7" cy="33.0" r="0.95" fill="#e00000"/>
<circle cx="509.8" cy="43.9" r="0.95" fill="#e00000"/>
<circle cx="499.0" cy="29.0" r="0.95" fill="#e00000"/>
<circle cx="502.8" cy="30.1" r="0.95" fill="#e00000"/>
<circle cx="501.8" cy="47.1" r="0.95" fill="#e00000"/>
<circle cx="503.6" cy="26.3" r="0.95" fill="#e00000"/>
<circle cx="499.4" cy="26.7" r="0.95" fill="#e00000"/>
<circle cx="511.6" cy="34.7" r="0.95" fill="#e00000"/>
<circle cx="515.8" cy="35.1" r="0.95" fill="#e00000"/>
<circle cx="508.2" cy="38.2" r="0.95" fill="#e00000"/>
<circle cx="513.8" cy="40.7" r="0.95" fill="#e00000"/>
<circle cx="502.1" cy="21.1" r="0.95" fill="#e00000"/>
<circle cx="504.7" cy="41.0" r="0.95" fill="#e00000"/>
<circle cx="500.9" cy="38.5" r="0.95" fill="#e00000"/>
<circle cx="503.9" cy="37.3" r="0.95" fill="#e00000"/>
<circle cx="500.1" cy="42.4" r="0.95" fill="#e00000"/>
<circle cx="504.0" cy="45.9" r="0.95" fill="#e00000"/>
<circle cx="509.1" cy="25.0" r="0.95" fill="#e00000"/>
<circle cx="505.9" cy="29.9" r="0.95" fill="#e00000"/>
<circle cx="510.1" cy="24.3" r="0.95" fill="#e00000"/>
<circle cx="517.5" cy="24.3" r="0.95" fill="#e00000"/>
<circle cx="523.6" cy="24.3" r="0.95" fill="#e00000"/>
<circle cx="523.6" cy="28.4" r="0.95" fill="#e00000"/>
<circle cx="530.7" cy="32.1" r="0.95" fill="#e00000"/>
<circle cx="538.1" cy="32.1" r="0.95" fill="#e00000"/>
<circle cx="539.2" cy="21.4" r="0.95" fill="#e00000"/>
<circle cx="554.0" cy="19.3" r="0.95" fill="#e00000"/>
<circle cx="557.9" cy="26.0" r="0.95" fill="#e00000"/>
<circle cx="550.7" cy="28.8" r="0.95" fill="#e00000"/>
<circle cx="576.2" cy="28.8" r="0.95" fill="#e00000"/>
<circle cx="584.2" cy="32.2" r="0.95" fill="#e00000"/>
<circle cx="511.9" cy="47.1" r="0.95" fill="#e00000"/>
<circle cx="502.5" cy="52.4" r="0.95" fill="#e00000"/>
<circle cx="516.0" cy="33.6" r="0.95" fill="#e00000"/>
<circle cx="516.6" cy="40.1" r="0.95" fill="#e00000"/>
<circle cx="502.8" cy="20.9" r="0.95" fill="#e00000"/>
<circle cx="497.5" cy="52.5" r="0.95" fill="#e00000"/>
<circle cx="496.2" cy="50.2" r="0.95" fill="#e00000"/>
<circle cx="507.5" cy="48.5" r="0.95" fill="#e00000"/>
<circle cx="484.5" cy="57.2" r="0.95" fill="#e00000"/>
<circle cx="482.2" cy="57.8" r="0.95" fill="#e00000"/>
<circle cx="476.5" cy="70.2" r="0.95" fill="#e00000"/>
<circle cx="477.1" cy="63.7" r="0.95" fill="#e00000"/>
<circle cx="479.6" cy="66.9" r="0.95" fill="#e00000"/>
<circle cx="482.5" cy="66.1" r="0.95" fill="#e00000"/>
<circle cx="479.3" cy="71.7" r="0.95" fill="#e00000"/>
<circle cx="483.2" cy="68.3" r="0.95" fill="#e00000"/>
<circle cx="482.2" cy="61.1" r="0.95" fill="#e00000"/>
<circle cx="481.4" cy="63.4" r="0.95" fill="#e00000"/>
<circle cx="472.8" cy="62.2" r="0.95" fill="#e00000"/>
<circle cx="473.4" cy="66.6" r="0.95" fill="#e00000"/>
<circle cx="480.3" cy="69.5" r="0.95" fill="#e00000"/>
<circle cx="474.1" cy="64.2" r="0.95" fill="#e00000"/>
<circle cx="475.2" cy="68.2" r="0.95" fill="#e00000"/>
<circle cx="479.8" cy="61.6" r="0.95" fill="#e00000"/>
<circle cx="475.5" cy="61.9" r="0.95" fill="#e00000"/>
<circle cx="472.7" cy="69.8" r="0.95" fill="#e00000"/>
<circle cx="471.7" cy="64.7" r="0.95" fill="#e00000"/>
<circle cx="477.4" cy="67.6" r="0.95" fill="#e00000"/>
<circle cx="483.9" cy="63.2" r="0.95" fill="#e00000"/>
<circle cx="483.2" cy="58.9" r="0.95" fill="#e00000"/>
<circle cx="478.9" cy="79.7" r="0.95" fill="#e00000"/>
<circle cx="475.9" cy="79.6" r="0.95" fill="#e00000"/>
<circle cx="474.2" cy="78.4" r="0.95" fill="#e00000"/>
<circle cx="478.1" cy="77.7" r="0.95" fill="#e00000"/>
<circle cx="480.5" cy="78.4" r="0.95" fill="#e00000"/>
<circle cx="476.0" cy="77.3" r="0.95" fill="#e00000"/>
<circle cx="468.4" cy="63.0" r="0.95" fill="#e00000"/>
<circle cx="456.6" cy="71.0" r="0.95" fill="#e00000"/>
<circle cx="441.3" cy="78.8" r="0.95" fill="#e00000"/>
<circle cx="448.8" cy="79.9" r="0.95" fill="#e00000"/>
<circle cx="470.5" cy="86.4" r="0.95" fill="#e00000"/>
<circle cx="491.3" cy="18.9" r="1.2" fill="#3f9f49" stroke="#24692c" stroke-width="0.45"/>
<circle cx="493.9" cy="19.0" r="1.2" fill="#3f9f49" stroke="#24692c" stroke-width="0.45"/>
<circle cx="495.5" cy="18.7" r="1.2" fill="#3f9f49" stroke="#24692c" stroke-width="0.45"/>
<circle cx="497.7" cy="18.9" r="1.2" fill="#3f9f49" stroke="#24692c" stroke-width="0.45"/>
<circle cx="492.6" cy="20.6" r="1.2" fill="#3f9f49" stroke="#24692c" stroke-width="0.45"/>
<circle cx="494.4" cy="20.7" r="1.2" fill="#3f9f49" stroke="#24692c" stroke-width="0.45"/>
<circle cx="496.7" cy="20.8" r="1.2" fill="#3f9f49" stroke="#24692c" stroke-width="0.45"/>
<circle cx="498.8" cy="20.4" r="1.2" fill="#3f9f49" stroke="#24692c" stroke-width="0.45"/>
<circle cx="491.7" cy="22.2" r="1.2" fill="#3f9f49" stroke="#24692c" stroke-width="0.45"/>
<circle cx="493.5" cy="22.2" r="1.2" fill="#3f9f49" stroke="#24692c" stroke-width="0.45"/>
<circle cx="495.4" cy="22.5" r="1.2" fill="#3f9f49" stroke="#24692c" stroke-width="0.45"/>
<circle cx="498.0" cy="22.2" r="1.2" fill="#3f9f49" stroke="#24692c" stroke-width="0.45"/>
<circle cx="492.6" cy="24.2" r="1.2" fill="#3f9f49" stroke="#24692c" stroke-width="0.45"/>
<circle cx="494.8" cy="24.4" r="1.2" fill="#3f9f49" stroke="#24692c" stroke-width="0.45"/>
<circle cx="496.9" cy="24.3" r="1.2" fill="#3f9f49" stroke="#24692c" stroke-width="0.45"/>
<circle cx="498.8" cy="24.3" r="1.2" fill="#3f9f49" stroke="#24692c" stroke-width="0.45"/>
<circle cx="491.3" cy="26.3" r="1.2" fill="#3f9f49" stroke="#24692c" stroke-width="0.45"/>
<circle cx="493.4" cy="26.2" r="1.2" fill="#3f9f49" stroke="#24692c" stroke-width="0.45"/>
<circle cx="495.9" cy="26.0" r="1.2" fill="#3f9f49" stroke="#24692c" stroke-width="0.45"/>
<circle cx="497.5" cy="26.0" r="1.2" fill="#3f9f49" stroke="#24692c" stroke-width="0.45"/>
<circle cx="492.5" cy="27.8" r="1.2" fill="#3f9f49" stroke="#24692c" stroke-width="0.45"/>
<circle cx="494.7" cy="28.3" r="1.2" fill="#3f9f49" stroke="#24692c" stroke-width="0.45"/>
<circle cx="496.9" cy="28.2" r="1.2" fill="#3f9f49" stroke="#24692c" stroke-width="0.45"/>
<circle cx="491.3" cy="30.2" r="1.2" fill="#3f9f49" stroke="#24692c" stroke-width="0.45"/>
<circle cx="493.7" cy="29.7" r="1.2" fill="#3f9f49" stroke="#24692c" stroke-width="0.45"/>
<circle cx="495.8" cy="29.8" r="1.2" fill="#3f9f49" stroke="#24692c" stroke-width="0.45"/>
<circle cx="497.6" cy="29.9" r="1.2" fill="#3f9f49" stroke="#24692c" stroke-width="0.45"/>
<circle cx="492.3" cy="31.6" r="1.2" fill="#3f9f49" stroke="#24692c" stroke-width="0.45"/>
<circle cx="494.3" cy="31.7" r="1.2" fill="#3f9f49" stroke="#24692c" stroke-width="0.45"/>
<circle cx="496.4" cy="31.9" r="1.2" fill="#3f9f49" stroke="#24692c" stroke-width="0.45"/>
<circle cx="491.3" cy="33.6" r="1.2" fill="#3f9f49" stroke="#24692c" stroke-width="0.45"/>
<circle cx="493.4" cy="33.7" r="1.2" fill="#3f9f49" stroke="#24692c" stroke-width="0.45"/>
<circle cx="495.7" cy="33.4" r="1.2" fill="#3f9f49" stroke="#24692c" stroke-width="0.45"/>
<circle cx="492.4" cy="35.3" r="1.2" fill="#3f9f49" stroke="#24692c" stroke-width="0.45"/>
<circle cx="494.3" cy="35.6" r="1.2" fill="#3f9f49" stroke="#24692c" stroke-width="0.45"/>
<circle cx="496.6" cy="35.7" r="1.2" fill="#3f9f49" stroke="#24692c" stroke-width="0.45"/>
<circle cx="491.6" cy="37.2" r="1.2" fill="#3f9f49" stroke="#24692c" stroke-width="0.45"/>
<circle cx="493.7" cy="37.4" r="1.2" fill="#3f9f49" stroke="#24692c" stroke-width="0.45"/>
<circle cx="495.5" cy="37.3" r="1.2" fill="#3f9f49" stroke="#24692c" stroke-width="0.45"/>
<circle cx="492.5" cy="39.3" r="1.2" fill="#3f9f49" stroke="#24692c" stroke-width="0.45"/>
<circle cx="494.6" cy="38.9" r="1.2" fill="#3f9f49" stroke="#24692c" stroke-width="0.45"/>
<circle cx="496.6" cy="39.1" r="1.2" fill="#3f9f49" stroke="#24692c" stroke-width="0.45"/>
<circle cx="491.4" cy="40.9" r="1.2" fill="#3f9f49" stroke="#24692c" stroke-width="0.45"/>
<circle cx="493.3" cy="40.8" r="1.2" fill="#3f9f49" stroke="#24692c" stroke-width="0.45"/>
<circle cx="495.2" cy="41.3" r="1.2" fill="#3f9f49" stroke="#24692c" stroke-width="0.45"/>
<circle cx="492.1" cy="43.1" r="1.2" fill="#3f9f49" stroke="#24692c" stroke-width="0.45"/>
<circle cx="494.3" cy="42.7" r="1.2" fill="#3f9f49" stroke="#24692c" stroke-width="0.45"/>
<circle cx="496.6" cy="43.1" r="1.2" fill="#3f9f49" stroke="#24692c" stroke-width="0.45"/>
<circle cx="491.1" cy="44.9" r="1.2" fill="#3f9f49" stroke="#24692c" stroke-width="0.45"/>
<circle cx="493.5" cy="44.8" r="1.2" fill="#3f9f49" stroke="#24692c" stroke-width="0.45"/>
<circle cx="495.5" cy="44.9" r="1.2" fill="#3f9f49" stroke="#24692c" stroke-width="0.45"/>
<circle cx="491.9" cy="46.4" r="1.2" fill="#3f9f49" stroke="#24692c" stroke-width="0.45"/>
<circle cx="493.9" cy="46.5" r="1.2" fill="#3f9f49" stroke="#24692c" stroke-width="0.45"/>
<circle cx="491.0" cy="48.6" r="1.2" fill="#3f9f49" stroke="#24692c" stroke-width="0.45"/>
<circle cx="492.9" cy="48.2" r="1.2" fill="#3f9f49" stroke="#24692c" stroke-width="0.45"/>
<circle cx="495.0" cy="48.3" r="1.2" fill="#3f9f49" stroke="#24692c" stroke-width="0.45"/>
<circle cx="491.5" cy="50.5" r="1.2" fill="#3f9f49" stroke="#24692c" stroke-width="0.45"/>
<circle cx="493.6" cy="50.5" r="1.2" fill="#3f9f49" stroke="#24692c" stroke-width="0.45"/>
<circle cx="490.1" cy="52.1" r="1.2" fill="#3f9f49" stroke="#24692c" stroke-width="0.45"/>
<circle cx="492.3" cy="52.4" r="1.2" fill="#3f9f49" stroke="#24692c" stroke-width="0.45"/>
<circle cx="494.3" cy="51.9" r="1.2" fill="#3f9f49" stroke="#24692c" stroke-width="0.45"/>
<circle cx="491.0" cy="54.1" r="1.2" fill="#3f9f49" stroke="#24692c" stroke-width="0.45"/>
<circle cx="492.7" cy="53.9" r="1.2" fill="#3f9f49" stroke="#24692c" stroke-width="0.45"/>
<circle cx="489.0" cy="55.8" r="1.2" fill="#3f9f49" stroke="#24692c" stroke-width="0.45"/>
<circle cx="491.4" cy="55.9" r="1.2" fill="#3f9f49" stroke="#24692c" stroke-width="0.45"/>
<circle cx="489.0" cy="57.6" r="1.2" fill="#3f9f49" stroke="#24692c" stroke-width="0.45"/>
<circle cx="491.1" cy="57.9" r="1.2" fill="#3f9f49" stroke="#24692c" stroke-width="0.45"/>
<circle cx="486.6" cy="59.8" r="1.2" fill="#3f9f49" stroke="#24692c" stroke-width="0.45"/>
<circle cx="488.5" cy="59.5" r="1.2" fill="#3f9f49" stroke="#24692c" stroke-width="0.45"/>
<circle cx="490.9" cy="59.6" r="1.2" fill="#3f9f49" stroke="#24692c" stroke-width="0.45"/>
<circle cx="487.3" cy="61.6" r="1.2" fill="#3f9f49" stroke="#24692c" stroke-width="0.45"/>
<circle cx="489.2" cy="61.2" r="1.2" fill="#3f9f49" stroke="#24692c" stroke-width="0.45"/>
<circle cx="485.8" cy="63.4" r="1.2" fill="#3f9f49" stroke="#24692c" stroke-width="0.45"/>
<circle cx="488.0" cy="63.5" r="1.2" fill="#3f9f49" stroke="#24692c" stroke-width="0.45"/>
<circle cx="490.1" cy="62.9" r="1.2" fill="#3f9f49" stroke="#24692c" stroke-width="0.45"/>
<circle cx="486.4" cy="65.0" r="1.2" fill="#3f9f49" stroke="#24692c" stroke-width="0.45"/>
<circle cx="488.8" cy="65.3" r="1.2" fill="#3f9f49" stroke="#24692c" stroke-width="0.45"/>
<circle cx="485.2" cy="66.6" r="1.2" fill="#3f9f49" stroke="#24692c" stroke-width="0.45"/>
<circle cx="487.2" cy="66.9" r="1.2" fill="#3f9f49" stroke="#24692c" stroke-width="0.45"/>
<circle cx="489.7" cy="66.6" r="1.2" fill="#3f9f49" stroke="#24692c" stroke-width="0.45"/>
<circle cx="485.7" cy="69.0" r="1.2" fill="#3f9f49" stroke="#24692c" stroke-width="0.45"/>
<circle cx="487.9" cy="69.0" r="1.2" fill="#3f9f49" stroke="#24692c" stroke-width="0.45"/>
<circle cx="490.2" cy="68.5" r="1.2" fill="#3f9f49" stroke="#24692c" stroke-width="0.45"/>
<circle cx="484.3" cy="70.5" r="1.2" fill="#3f9f49" stroke="#24692c" stroke-width="0.45"/>
<circle cx="486.5" cy="70.3" r="1.2" fill="#3f9f49" stroke="#24692c" stroke-width="0.45"/>
<circle cx="488.7" cy="70.7" r="1.2" fill="#3f9f49" stroke="#24692c" stroke-width="0.45"/>
<circle cx="485.1" cy="72.5" r="1.2" fill="#3f9f49" stroke="#24692c" stroke-width="0.45"/>
<circle cx="487.1" cy="72.5" r="1.2" fill="#3f9f49" stroke="#24692c" stroke-width="0.45"/>
<circle cx="489.3" cy="72.7" r="1.2" fill="#3f9f49" stroke="#24692c" stroke-width="0.45"/>
<circle cx="483.8" cy="74.1" r="1.2" fill="#3f9f49" stroke="#24692c" stroke-width="0.45"/>
<circle cx="486.1" cy="74.2" r="1.2" fill="#3f9f49" stroke="#24692c" stroke-width="0.45"/>
<circle cx="487.8" cy="74.1" r="1.2" fill="#3f9f49" stroke="#24692c" stroke-width="0.45"/>
<circle cx="484.5" cy="75.9" r="1.2" fill="#3f9f49" stroke="#24692c" stroke-width="0.45"/>
<circle cx="486.5" cy="75.9" r="1.2" fill="#3f9f49" stroke="#24692c" stroke-width="0.45"/>
<circle cx="489.0" cy="76.3" r="1.2" fill="#3f9f49" stroke="#24692c" stroke-width="0.45"/>
<circle cx="483.5" cy="78.0" r="1.2" fill="#3f9f49" stroke="#24692c" stroke-width="0.45"/>
<circle cx="485.3" cy="78.2" r="1.2" fill="#3f9f49" stroke="#24692c" stroke-width="0.45"/>
<circle cx="487.4" cy="78.2" r="1.2" fill="#3f9f49" stroke="#24692c" stroke-width="0.45"/>
<circle cx="484.0" cy="79.6" r="1.2" fill="#3f9f49" stroke="#24692c" stroke-width="0.45"/>
<circle cx="485.8" cy="79.7" r="1.2" fill="#3f9f49" stroke="#24692c" stroke-width="0.45"/>
<circle cx="488.4" cy="79.9" r="1.2" fill="#3f9f49" stroke="#24692c" stroke-width="0.45"/>
<circle cx="482.7" cy="81.8" r="1.2" fill="#3f9f49" stroke="#24692c" stroke-width="0.45"/>
<circle cx="484.7" cy="81.4" r="1.2" fill="#3f9f49" stroke="#24692c" stroke-width="0.45"/>
<circle cx="487.0" cy="81.7" r="1.2" fill="#3f9f49" stroke="#24692c" stroke-width="0.45"/>
<circle cx="483.8" cy="83.6" r="1.2" fill="#3f9f49" stroke="#24692c" stroke-width="0.45"/>
<circle cx="486.0" cy="83.6" r="1.2" fill="#3f9f49" stroke="#24692c" stroke-width="0.45"/>
<circle cx="483.1" cy="85.2" r="1.2" fill="#3f9f49" stroke="#24692c" stroke-width="0.45"/>
<circle cx="485.0" cy="85.2" r="1.2" fill="#3f9f49" stroke="#24692c" stroke-width="0.45"/>
<circle cx="486.9" cy="85.2" r="1.2" fill="#3f9f49" stroke="#24692c" stroke-width="0.45"/>
<circle cx="485.2" cy="87.3" r="1.2" fill="#3f9f49" stroke="#24692c" stroke-width="0.45"/>
<circle cx="486.9" cy="87.4" r="1.2" fill="#3f9f49" stroke="#24692c" stroke-width="0.45"/>
<circle cx="484.8" cy="89.3" r="1.2" fill="#3f9f49" stroke="#24692c" stroke-width="0.45"/>
<circle cx="487.3" cy="89.2" r="1.2" fill="#3f9f49" stroke="#24692c" stroke-width="0.45"/>
<circle cx="487.0" cy="90.7" r="1.2" fill="#3f9f49" stroke="#24692c" stroke-width="0.45"/>
<circle cx="487.0" cy="92.8" r="1.2" fill="#3f9f49" stroke="#24692c" stroke-width="0.45"/>
<text x="0.5" y="162.6" font-size="10.3" text-anchor="start" font-family='"Liberation Serif", serif' fill="#000" font-weight="normal" >C</text>
<line x1="66.25" y1="165.2" x2="66.25" y2="357.7" stroke="#ebebeb" stroke-width="0.55" />
<line x1="85.92" y1="165.2" x2="85.92" y2="357.7" stroke="#ebebeb" stroke-width="0.3" />
<line x1="105.6" y1="165.2" x2="105.6" y2="357.7" stroke="#ebebeb" stroke-width="0.55" />
<line x1="125.27" y1="165.2" x2="125.27" y2="357.7" stroke="#ebebeb" stroke-width="0.3" />
<line x1="144.95" y1="165.2" x2="144.95" y2="357.7" stroke="#ebebeb" stroke-width="0.55" />
<line x1="164.62" y1="165.2" x2="164.62" y2="357.7" stroke="#ebebeb" stroke-width="0.3" />
<line x1="184.3" y1="165.2" x2="184.3" y2="357.7" stroke="#ebebeb" stroke-width="0.55" />
<line x1="203.97" y1="165.2" x2="203.97" y2="357.7" stroke="#ebebeb" stroke-width="0.3" />
<line x1="223.65" y1="165.2" x2="223.65" y2="357.7" stroke="#ebebeb" stroke-width="0.55" />
<line x1="60.4" y1="347.6" x2="239.6" y2="347.6" stroke="#ebebeb" stroke-width="0.55" />
<line x1="60.4" y1="324.2" x2="239.6" y2="324.2" stroke="#ebebeb" stroke-width="0.3" />
<line x1="60.4" y1="300.8" x2="239.6" y2="300.8" stroke="#ebebeb" stroke-width="0.55" />
<line x1="60.4" y1="277.4" x2="239.6" y2="277.4" stroke="#ebebeb" stroke-width="0.3" />
<line x1="60.4" y1="254.0" x2="239.6" y2="254.0" stroke="#ebebeb" stroke-width="0.55" />
<line x1="60.4" y1="230.6" x2="239.6" y2="230.6" stroke="#ebebeb" stroke-width="0.3" />
<line x1="60.4" y1="207.2" x2="239.6" y2="207.2" stroke="#ebebeb" stroke-width="0.55" />
<line x1="60.4" y1="183.8" x2="239.6" y2="183.8" stroke="#ebebeb" stroke-width="0.3" />
<rect x="60.4" y="165.2" width="179.2" height="192.5" fill="none" stroke="#c2c2c2" stroke-width="1.1"/>
<line x1="57.8" y1="347.6" x2="60.4" y2="347.6" stroke="#555" stroke-width="0.6" />
<text x="56.6" y="349.6" font-size="5.8" text-anchor="end" font-family='"Liberation Sans", sans-serif' fill="#4d4d4d" font-weight="normal" >0</text>
<line x1="57.8" y1="300.8" x2="60.4" y2="300.8" stroke="#555" stroke-width="0.6" />
<text x="56.6" y="302.8" font-size="5.8" text-anchor="end" font-family='"Liberation Sans", sans-serif' fill="#4d4d4d" font-weight="normal" >2</text>
<line x1="57.8" y1="254.0" x2="60.4" y2="254.0" stroke="#555" stroke-width="0.6" />
<text x="56.6" y="256.0" font-size="5.8" text-anchor="end" font-family='"Liberation Sans", sans-serif' fill="#4d4d4d" font-weight="normal" >4</text>
<line x1="57.8" y1="207.2" x2="60.4" y2="207.2" stroke="#555" stroke-width="0.6" />
<text x="56.6" y="209.2" font-size="5.8" text-anchor="end" font-family='"Liberation Sans", sans-serif' fill="#4d4d4d" font-weight="normal" >6</text>
<line x1="66.25" y1="357.7" x2="66.25" y2="360" stroke="#555" stroke-width="0.6" />
<text x="66.25" y="365.7" font-size="5.8" text-anchor="middle" font-family='"Liberation Sans", sans-serif' fill="#4d4d4d" font-weight="normal" >-1</text>
<line x1="105.6" y1="357.7" x2="105.6" y2="360" stroke="#555" stroke-width="0.6" />
<text x="105.6" y="365.7" font-size="5.8" text-anchor="middle" font-family='"Liberation Sans", sans-serif' fill="#4d4d4d" font-weight="normal" >0</text>
<line x1="144.95" y1="357.7" x2="144.95" y2="360" stroke="#555" stroke-width="0.6" />
<text x="144.95" y="365.7" font-size="5.8" text-anchor="middle" font-family='"Liberation Sans", sans-serif' fill="#4d4d4d" font-weight="normal" >1</text>
<line x1="184.3" y1="357.7" x2="184.3" y2="360" stroke="#555" stroke-width="0.6" />
<text x="184.3" y="365.7" font-size="5.8" text-anchor="middle" font-family='"Liberation Sans", sans-serif' fill="#4d4d4d" font-weight="normal" >2</text>
<line x1="223.65" y1="357.7" x2="223.65" y2="360" stroke="#555" stroke-width="0.6" />
<text x="223.65" y="365.7" font-size="5.8" text-anchor="middle" font-family='"Liberation Sans", sans-serif' fill="#4d4d4d" font-weight="normal" >3</text>
<text x="116.8" y="377.2" font-size="8.2" text-anchor="start" font-family='"Liberation Sans", sans-serif' fill="#1a1a1a" font-weight="normal" textLength="65.5" lengthAdjust="spacing">log<tspan font-size="5.2" dy="1.8">2</tspan><tspan dy="-1.8">(Fold Change)</tspan></text>
<text transform="translate(47.4,290.3) rotate(-90)" font-size="8.2" font-family='"Liberation Sans", sans-serif' fill="#1a1a1a" textLength="58.5" lengthAdjust="spacing">−&#160;log<tspan font-size="5.2" dy="1.8">10</tspan><tspan dy="-1.8">(P Value)</tspan></text>
<circle cx="73.5" cy="321.5" r="0.95" fill="#c4c4c4" fill-opacity="0.85"/>
<circle cx="78.2" cy="320" r="0.95" fill="#c4c4c4" fill-opacity="0.85"/>
<circle cx="87.9" cy="323.7" r="0.95" fill="#c4c4c4" fill-opacity="0.85"/>
<circle cx="92.1" cy="324.9" r="0.95" fill="#c4c4c4" fill-opacity="0.85"/>
<circle cx="100.2" cy="322.4" r="0.95" fill="#c4c4c4" fill-opacity="0.85"/>
<circle cx="72.7" cy="334.2" r="0.95" fill="#c4c4c4" fill-opacity="0.85"/>
<circle cx="83.6" cy="336.7" r="0.95" fill="#c4c4c4" fill-opacity="0.85"/>
<circle cx="91.2" cy="337.7" r="0.95" fill="#c4c4c4" fill-opacity="0.85"/>
<circle cx="94.6" cy="336" r="0.95" fill="#c4c4c4" fill-opacity="0.85"/>
<circle cx="98.5" cy="327.1" r="0.95" fill="#c4c4c4" fill-opacity="0.85"/>
<circle cx="114" cy="322.9" r="0.95" fill="#c4c4c4" fill-opacity="0.85"/>
<circle cx="114" cy="328" r="0.95" fill="#c4c4c4" fill-opacity="0.85"/>
<circle cx="118.2" cy="318.6" r="0.95" fill="#c4c4c4" fill-opacity="0.85"/>
<circle cx="122.8" cy="320.3" r="0.95" fill="#c4c4c4" fill-opacity="0.85"/>
<circle cx="96.3" cy="298.4" r="0.95" fill="#c4c4c4" fill-opacity="0.85"/>
<circle cx="96.3" cy="300" r="0.95" fill="#c4c4c4" fill-opacity="0.85"/>
<circle cx="98" cy="306.8" r="0.95" fill="#c4c4c4" fill-opacity="0.85"/>
<circle cx="98" cy="312" r="0.95" fill="#c4c4c4" fill-opacity="0.85"/>
<circle cx="97.4" cy="263.8" r="0.95" fill="#c4c4c4" fill-opacity="0.85"/>
<circle cx="97.4" cy="284.9" r="0.95" fill="#c4c4c4" fill-opacity="0.85"/>
<circle cx="97.4" cy="287.2" r="0.95" fill="#c4c4c4" fill-opacity="0.85"/>
<circle cx="99.9" cy="322.9" r="0.95" fill="#c4c4c4" fill-opacity="0.85"/>
<circle cx="98" cy="327.8" r="0.95" fill="#c4c4c4" fill-opacity="0.85"/>
<circle cx="103.1" cy="332" r="0.95" fill="#c4c4c4" fill-opacity="0.85"/>
<circle cx="101.9" cy="334.8" r="0.95" fill="#c4c4c4" fill-opacity="0.85"/>
<circle cx="102.3" cy="338.1" r="0.95" fill="#c4c4c4" fill-opacity="0.85"/>
<circle cx="102.9" cy="341" r="0.95" fill="#c4c4c4" fill-opacity="0.85"/>
<circle cx="103.5" cy="342.7" r="0.95" fill="#c4c4c4" fill-opacity="0.85"/>
<circle cx="104.6" cy="345.1" r="0.95" fill="#c4c4c4" fill-opacity="0.85"/>
<circle cx="105.8" cy="346.8" r="0.95" fill="#c4c4c4" fill-opacity="0.85"/>
<circle cx="107" cy="347.4" r="0.95" fill="#c4c4c4" fill-opacity="0.85"/>
<circle cx="108.1" cy="346.3" r="0.95" fill="#c4c4c4" fill-opacity="0.85"/>
<circle cx="109.3" cy="344.5" r="0.95" fill="#c4c4c4" fill-opacity="0.85"/>
<circle cx="108.7" cy="341.6" r="0.95" fill="#c4c4c4" fill-opacity="0.85"/>
<circle cx="109.9" cy="338.7" r="0.95" fill="#c4c4c4" fill-opacity="0.85"/>
<circle cx="111.1" cy="336.3" r="0.95" fill="#c4c4c4" fill-opacity="0.85"/>
<circle cx="111.6" cy="334" r="0.95" fill="#c4c4c4" fill-opacity="0.85"/>
<circle cx="110.5" cy="332.8" r="0.95" fill="#c4c4c4" fill-opacity="0.85"/>
<circle cx="112.2" cy="332.2" r="0.95" fill="#c4c4c4" fill-opacity="0.85"/>
<circle cx="111.6" cy="326.4" r="0.95" fill="#c4c4c4" fill-opacity="0.85"/>
<circle cx="112.2" cy="322.9" r="0.95" fill="#c4c4c4" fill-opacity="0.85"/>
<circle cx="112.8" cy="321.7" r="0.95" fill="#c4c4c4" fill-opacity="0.85"/>
<circle cx="113.4" cy="336.9" r="0.95" fill="#c4c4c4" fill-opacity="0.85"/>
<circle cx="114" cy="339.8" r="0.95" fill="#c4c4c4" fill-opacity="0.85"/>
<circle cx="115.1" cy="342.2" r="0.95" fill="#c4c4c4" fill-opacity="0.85"/>
<circle cx="114" cy="346.3" r="0.95" fill="#c4c4c4" fill-opacity="0.85"/>
<circle cx="101.1" cy="345.1" r="0.95" fill="#c4c4c4" fill-opacity="0.85"/>
<circle cx="118.1" cy="325.8" r="0.95" fill="#c4c4c4" fill-opacity="0.85"/>
<circle cx="118.1" cy="330.5" r="0.95" fill="#c4c4c4" fill-opacity="0.85"/>
<circle cx="123" cy="320.5" r="0.95" fill="#c4c4c4" fill-opacity="0.85"/>
<circle cx="112.8" cy="314.1" r="0.95" fill="#c4c4c4" fill-opacity="0.85"/>
<circle cx="97" cy="312.3" r="0.95" fill="#c4c4c4" fill-opacity="0.85"/>
<circle cx="97.6" cy="310.6" r="0.95" fill="#c4c4c4" fill-opacity="0.85"/>
<circle cx="182.6" cy="327.7" r="0.95" fill="#c4c4c4" fill-opacity="0.85"/>
<circle cx="215.4" cy="328.9" r="0.95" fill="#c4c4c4" fill-opacity="0.85"/>
<circle cx="224.7" cy="329.8" r="0.95" fill="#c4c4c4" fill-opacity="0.85"/>
<circle cx="138.4" cy="348.5" r="0.95" fill="#c4c4c4" fill-opacity="0.85"/>
<circle cx="96.8" cy="261.8" r="0.95" fill="#c4c4c4" fill-opacity="0.85"/>
<circle cx="97.7" cy="264.5" r="0.95" fill="#c4c4c4" fill-opacity="0.85"/>
<circle cx="96.8" cy="283.6" r="0.95" fill="#c4c4c4" fill-opacity="0.85"/>
<circle cx="97.7" cy="286.4" r="0.95" fill="#c4c4c4" fill-opacity="0.85"/>
<circle cx="96.8" cy="288.2" r="0.95" fill="#c4c4c4" fill-opacity="0.85"/>
<circle cx="98.6" cy="296.4" r="0.95" fill="#c4c4c4" fill-opacity="0.85"/>
<circle cx="97.7" cy="298.2" r="0.95" fill="#c4c4c4" fill-opacity="0.85"/>
<circle cx="99.5" cy="299" r="0.95" fill="#c4c4c4" fill-opacity="0.85"/>
<circle cx="96.8" cy="304.5" r="0.95" fill="#c4c4c4" fill-opacity="0.85"/>
<circle cx="97.7" cy="308.2" r="0.95" fill="#c4c4c4" fill-opacity="0.85"/>
<circle cx="112.3" cy="312.7" r="0.95" fill="#c4c4c4" fill-opacity="0.85"/>
<circle cx="114.1" cy="269" r="0.95" fill="#c4c4c4" fill-opacity="0.85"/>
<circle cx="106.5" cy="347.8" r="0.95" fill="#c4c4c4" fill-opacity="0.85"/>
<circle cx="105" cy="343.5" r="0.95" fill="#c4c4c4" fill-opacity="0.85"/>
<circle cx="107.5" cy="344" r="0.95" fill="#c4c4c4" fill-opacity="0.85"/>
<circle cx="110.5" cy="340" r="0.95" fill="#c4c4c4" fill-opacity="0.85"/>
<circle cx="104" cy="336" r="0.95" fill="#c4c4c4" fill-opacity="0.85"/>
<circle cx="113" cy="330" r="0.95" fill="#c4c4c4" fill-opacity="0.85"/>
<circle cx="97.5" cy="270" r="0.95" fill="#c4c4c4" fill-opacity="0.85"/>
<circle cx="98.2" cy="292" r="0.95" fill="#c4c4c4" fill-opacity="0.85"/>
<circle cx="98.8" cy="296" r="0.95" fill="#c4c4c4" fill-opacity="0.85"/>
<circle cx="99" cy="318.5" r="0.95" fill="#c4c4c4" fill-opacity="0.85"/>
<circle cx="100.8" cy="345.9" r="0.95" fill="#c4c4c4" fill-opacity="0.85"/>
<circle cx="104.2" cy="347.5" r="0.95" fill="#c4c4c4" fill-opacity="0.85"/>
<line x1="95.6" y1="166.1" x2="95.6" y2="357.7" stroke="#2a2a2a" stroke-width="1.0" stroke-dasharray="2.7,2.8"/>
<line x1="116.4" y1="166.1" x2="116.4" y2="357.7" stroke="#2a2a2a" stroke-width="1.0" stroke-dasharray="2.7,2.8"/>
<line x1="60.4" y1="317.4" x2="239.6" y2="317.4" stroke="#2a2a2a" stroke-width="1.0" stroke-dasharray="3,2.5"/>
<circle cx="87.3" cy="202.1" r="1.1" fill="#4f74b3"/>
<circle cx="88.5" cy="209.5" r="1.1" fill="#4f74b3"/>
<circle cx="95.1" cy="222.4" r="1.1" fill="#4f74b3"/>
<circle cx="77.1" cy="226" r="1.1" fill="#4f74b3"/>
<circle cx="91.5" cy="232.8" r="1.1" fill="#4f74b3"/>
<circle cx="76.4" cy="237.2" r="1.1" fill="#4f74b3"/>
<circle cx="95.5" cy="235.6" r="1.1" fill="#4f74b3"/>
<circle cx="93.5" cy="253.4" r="1.1" fill="#4f74b3"/>
<circle cx="92.7" cy="259.6" r="1.1" fill="#4f74b3"/>
<circle cx="88.8" cy="266.5" r="1.1" fill="#4f74b3"/>
<circle cx="93.5" cy="267" r="1.1" fill="#4f74b3"/>
<circle cx="91.6" cy="274" r="1.1" fill="#4f74b3"/>
<circle cx="68.6" cy="285.6" r="1.1" fill="#4f74b3"/>
<circle cx="85.7" cy="286.4" r="1.1" fill="#4f74b3"/>
<circle cx="88" cy="283.8" r="1.1" fill="#4f74b3"/>
<circle cx="91.2" cy="288.8" r="1.1" fill="#4f74b3"/>
<circle cx="92.7" cy="292.3" r="1.1" fill="#4f74b3"/>
<circle cx="92.9" cy="297" r="1.1" fill="#4f74b3"/>
<circle cx="86.5" cy="301.8" r="1.1" fill="#4f74b3"/>
<circle cx="94.6" cy="309.9" r="1.1" fill="#4f74b3"/>
<circle cx="95.1" cy="314.1" r="1.1" fill="#4f74b3"/>
<circle cx="94.7" cy="311.8" r="1.1" fill="#4f74b3"/>
<circle cx="141.9" cy="173.6" r="1.1" fill="#d22a2e"/>
<circle cx="122.8" cy="185" r="1.1" fill="#d22a2e"/>
<circle cx="132.6" cy="193" r="1.1" fill="#d22a2e"/>
<circle cx="125.1" cy="200.1" r="1.1" fill="#d22a2e"/>
<circle cx="132.9" cy="208.8" r="1.1" fill="#d22a2e"/>
<circle cx="138.8" cy="209.3" r="1.1" fill="#d22a2e"/>
<circle cx="145.5" cy="222.2" r="1.1" fill="#d22a2e"/>
<circle cx="125.1" cy="224.2" r="1.1" fill="#d22a2e"/>
<circle cx="123" cy="226.2" r="1.1" fill="#d22a2e"/>
<circle cx="119.9" cy="243.1" r="1.1" fill="#d22a2e"/>
<circle cx="128.2" cy="248.5" r="1.1" fill="#d22a2e"/>
<circle cx="130.1" cy="249.1" r="1.1" fill="#d22a2e"/>
<circle cx="137.9" cy="248.4" r="1.1" fill="#d22a2e"/>
<circle cx="139.9" cy="252.3" r="1.1" fill="#d22a2e"/>
<circle cx="118.1" cy="255.1" r="1.1" fill="#d22a2e"/>
<circle cx="129.3" cy="258.2" r="1.1" fill="#d22a2e"/>
<circle cx="133.2" cy="261" r="1.1" fill="#d22a2e"/>
<circle cx="117.6" cy="261.3" r="1.1" fill="#d22a2e"/>
<circle cx="131.3" cy="264.7" r="1.1" fill="#d22a2e"/>
<circle cx="126.2" cy="273" r="1.1" fill="#d22a2e"/>
<circle cx="125.9" cy="274.5" r="1.1" fill="#d22a2e"/>
<circle cx="135.8" cy="272.5" r="1.1" fill="#d22a2e"/>
<circle cx="145.2" cy="276.1" r="1.1" fill="#d22a2e"/>
<circle cx="118.1" cy="278.9" r="1.1" fill="#d22a2e"/>
<circle cx="126.2" cy="278.9" r="1.1" fill="#d22a2e"/>
<circle cx="132.1" cy="281.7" r="1.1" fill="#d22a2e"/>
<circle cx="125.9" cy="284.8" r="1.1" fill="#d22a2e"/>
<circle cx="123.1" cy="287.1" r="1.1" fill="#d22a2e"/>
<circle cx="122.3" cy="288.7" r="1.1" fill="#d22a2e"/>
<circle cx="123.8" cy="289.5" r="1.1" fill="#d22a2e"/>
<circle cx="130.1" cy="288.7" r="1.1" fill="#d22a2e"/>
<circle cx="120.7" cy="294.9" r="1.1" fill="#d22a2e"/>
<circle cx="121.2" cy="296.8" r="1.1" fill="#d22a2e"/>
<circle cx="121.5" cy="298.4" r="1.1" fill="#d22a2e"/>
<circle cx="139" cy="299.1" r="1.1" fill="#d22a2e"/>
<circle cx="144.1" cy="298.5" r="1.1" fill="#d22a2e"/>
<circle cx="117.6" cy="303" r="1.1" fill="#d22a2e"/>
<circle cx="119.2" cy="303.2" r="1.1" fill="#d22a2e"/>
<circle cx="126.6" cy="303.2" r="1.1" fill="#d22a2e"/>
<circle cx="130.5" cy="302.4" r="1.1" fill="#d22a2e"/>
<circle cx="134.3" cy="303" r="1.1" fill="#d22a2e"/>
<circle cx="140.5" cy="303.5" r="1.1" fill="#d22a2e"/>
<circle cx="144.6" cy="308.2" r="1.1" fill="#d22a2e"/>
<circle cx="121.8" cy="309" r="1.1" fill="#d22a2e"/>
<circle cx="119.2" cy="310.8" r="1.1" fill="#d22a2e"/>
<circle cx="118.1" cy="312.9" r="1.1" fill="#d22a2e"/>
<circle cx="144.9" cy="312.9" r="1.1" fill="#d22a2e"/>
<circle cx="117.3" cy="314.7" r="1.1" fill="#d22a2e"/>
<circle cx="127" cy="313.6" r="1.1" fill="#d22a2e"/>
<circle cx="128.5" cy="314.1" r="1.1" fill="#d22a2e"/>
<circle cx="130.5" cy="315.2" r="1.1" fill="#d22a2e"/>
<circle cx="141.4" cy="315.2" r="1.1" fill="#d22a2e"/>
<circle cx="232" cy="247.8" r="1.1" fill="#d22a2e"/>
<circle cx="162.2" cy="302" r="1.1" fill="#d22a2e"/>
<circle cx="198.3" cy="311.1" r="1.1" fill="#d22a2e"/>
<circle cx="117.5" cy="314.1" r="1.1" fill="#d22a2e"/>
<circle cx="118.7" cy="312.3" r="1.1" fill="#d22a2e"/>
<circle cx="119.8" cy="311.2" r="1.1" fill="#d22a2e"/>
<text x="63.9" y="233.0" font-size="5.3" font-family='"Liberation Sans", sans-serif' fill="#3b5f99" textLength="17.1" lengthAdjust="spacingAndGlyphs">Cortisol</text>
<text x="69.7" y="244.6" font-size="5.3" font-family='"Liberation Sans", sans-serif' fill="#3b5f99" textLength="22.3" lengthAdjust="spacingAndGlyphs">L-cysteine</text>
<text x="69.0" y="251.5" font-size="5.3" font-family='"Liberation Sans", sans-serif' fill="#3b5f99" textLength="70.3" lengthAdjust="spacingAndGlyphs">Dehydroepiandrosterone sulfate</text>
<text x="62.8" y="281.0" font-size="5.3" font-family='"Liberation Sans", sans-serif' fill="#3b5f99" textLength="32.7" lengthAdjust="spacingAndGlyphs">Estrone sulfate</text>
<text x="98.1" y="240.2" font-size="5.3" font-family='"Liberation Sans", sans-serif' fill="#c43a3a" textLength="35.5" lengthAdjust="spacingAndGlyphs">L-Phenylalanine</text>
<text x="139.3" y="219.1" font-size="5.3" font-family='"Liberation Sans", sans-serif' fill="#c43a3a" textLength="21.3" lengthAdjust="spacingAndGlyphs">Citric acid</text>
<text x="192.9" y="249.7" font-size="5.3" font-family='"Liberation Sans", sans-serif' fill="#c43a3a" textLength="35.1" lengthAdjust="spacingAndGlyphs">Taurocholic acid</text>
<text x="135.8" y="283.1" font-size="5.3" font-family='"Liberation Sans", sans-serif' fill="#c43a3a" textLength="49.7" lengthAdjust="spacingAndGlyphs">3-Dehydrosphinganine</text>
<text x="148.8" y="309.5" font-size="5.3" font-family='"Liberation Sans", sans-serif' fill="#c43a3a" textLength="35.4" lengthAdjust="spacingAndGlyphs">Glycocholic acid</text>
<text x="174.9" y="318.7" font-size="5.3" font-family='"Liberation Sans", sans-serif' fill="#c43a3a" textLength="56.1" lengthAdjust="spacingAndGlyphs">3-Phosphonooxypyruvate</text>
<text x="250.8" y="244.7" font-size="6.4" text-anchor="start" font-family='"Liberation Sans", sans-serif' fill="#1a1a1a" font-weight="normal" >Group</text>
<circle cx="256" cy="255.5" r="1.1" fill="#4a72b5"/>
<text x="265.0" y="257.7" font-size="6.5" text-anchor="start" font-family='"Liberation Sans", sans-serif' fill="#1a1a1a" font-weight="normal" >Down-regulated</text>
<circle cx="256" cy="266.6" r="1.1" fill="#c4c4c4"/>
<text x="265.0" y="268.8" font-size="6.5" text-anchor="start" font-family='"Liberation Sans", sans-serif' fill="#1a1a1a" font-weight="normal" >not-significant</text>
<circle cx="256" cy="277.6" r="1.1" fill="#d0282c"/>
<text x="265.0" y="279.8" font-size="6.5" text-anchor="start" font-family='"Liberation Sans", sans-serif' fill="#1a1a1a" font-weight="normal" >Up-regulated</text>
<text x="342.0" y="162.8" font-size="9.8" text-anchor="start" font-family='"Liberation Serif", serif' fill="#000" font-weight="normal" >D</text>
<text x="384.9" y="182.5" font-size="8.5" text-anchor="start" font-family='"Liberation Serif", serif' fill="#000" font-weight="bold" textLength="78.8" lengthAdjust="spacingAndGlyphs">Retrospective cohort</text>
<polyline points="357.70,316.60 357.70,299.93 362.16,299.93 362.16,279.10 380.00,279.10 380.00,245.77 384.46,245.77 384.46,241.60 411.22,241.60 411.22,224.93 446.90,224.93 446.90,216.60 469.20,216.60 469.20,195.77 482.58,195.77 482.58,191.60 491.50,191.60" fill="none" stroke="#c8e6c8" stroke-width="0.95" stroke-linejoin="miter"/>
<polyline points="357.70,316.60 357.70,295.77 362.16,295.77 366.62,291.60 380.00,291.60 380.00,274.93 384.46,274.93 384.46,254.10 388.92,254.10 388.92,249.93 393.38,249.93 393.38,245.77 397.84,245.77 397.84,241.60 402.30,241.60 402.30,233.27 406.76,224.93 424.60,224.93 424.60,216.60 429.06,216.60 437.98,208.27 446.90,208.27 446.90,204.10 451.36,204.10 451.36,195.77 473.66,195.77 473.66,191.60 491.50,191.60" fill="none" stroke="#ffb6f2" stroke-width="0.95" stroke-linejoin="miter"/>
<polyline points="357.70,316.60 357.70,291.60 362.16,291.60 362.16,283.27 380.00,283.27 380.00,262.43 393.38,262.43 393.38,254.10 402.30,254.10 402.30,249.93 406.76,249.93 406.76,245.77 411.22,245.77 411.22,237.43 415.68,237.43 415.68,229.10 429.06,229.10 429.06,224.93 442.44,224.93 442.44,220.77 451.36,220.77 451.36,216.60 455.82,216.60 455.82,212.43 469.20,212.43 469.20,204.10 478.12,204.10 478.12,199.93 487.04,199.93 487.04,195.77 491.50,195.77 491.50,191.60" fill="none" stroke="#ffa868" stroke-width="0.95" stroke-linejoin="miter"/>
<polyline points="357.70,316.60 357.70,283.27 366.62,283.27 366.62,274.93 371.08,274.93 371.08,266.60 375.54,266.60 375.54,254.10 380.00,254.10 380.00,249.93 384.46,249.93 384.46,245.77 402.30,245.77 402.30,241.60 406.76,241.60 406.76,229.10 420.14,229.10 420.14,224.93 429.06,224.93 429.06,216.60 442.44,216.60 442.44,212.43 446.90,212.43 446.90,204.10 460.28,204.10 460.28,199.93 464.74,199.93 464.74,195.77 473.66,195.77 473.66,191.60 491.50,191.60" fill="none" stroke="#ffee3a" stroke-width="0.95" stroke-linejoin="miter"/>
<polyline points="357.70,316.60 357.70,274.93 366.62,274.93 366.62,262.43 380.00,262.43 384.46,249.93 388.92,249.93 393.38,245.77 397.84,241.60 402.30,241.60 402.30,237.43 406.76,237.43 406.76,233.27 415.68,233.27 415.68,224.93 420.14,224.93 420.14,216.60 437.98,216.60 437.98,212.43 442.44,212.43 442.44,208.27 464.74,208.27 464.74,204.10 482.58,204.10 482.58,199.93 487.04,199.93 487.04,191.60 491.50,191.60" fill="none" stroke="#6ea6f5" stroke-width="0.95" stroke-linejoin="miter"/>
<polyline points="357.70,316.60 357.70,254.10 366.62,254.10 366.62,249.93 371.08,249.93 375.54,245.77 375.54,241.60 380.00,237.43 388.92,237.43 388.92,229.10 424.60,229.10 424.60,224.93 437.98,224.93 437.98,212.43 442.44,212.43 442.44,208.27 451.36,208.27 451.36,195.77 473.66,195.77 473.66,191.60 491.50,191.60" fill="none" stroke="#46a6c6" stroke-width="0.95" stroke-linejoin="miter"/>
<polyline points="357.70,316.60 357.70,283.27 366.62,283.27 366.62,237.43 375.54,237.43 375.54,229.10 380.00,229.10 380.00,224.93 393.38,224.93 393.38,220.77 415.68,220.77 415.68,216.60 424.60,216.60 424.60,208.27 429.06,208.27 429.06,204.10 451.36,204.10 451.36,199.93 455.82,199.93 455.82,195.77 469.20,195.77 469.20,191.60 491.50,191.60" fill="none" stroke="#c8c040" stroke-width="0.95" stroke-linejoin="miter"/>
<polyline points="357.70,316.60 357.70,287.43 362.16,287.43 362.16,254.10 366.62,254.10 366.62,245.77 371.08,245.77 371.08,241.60 375.54,241.60 375.54,237.43 380.00,237.43 380.00,233.27 384.46,233.27 384.46,220.77 393.38,220.77 393.38,212.43 397.84,212.43 397.84,208.27 415.68,208.27 415.68,204.10 424.60,204.10 424.60,199.93 491.50,199.93 491.50,191.60" fill="none" stroke="#5ee6b4" stroke-width="0.95" stroke-linejoin="miter"/>
<polyline points="357.70,316.60 357.70,249.93 362.16,249.93 362.16,245.77 366.62,245.77 366.62,233.27 371.08,233.27 371.08,224.93 384.46,224.93 384.46,216.60 388.92,216.60 393.38,212.43 411.22,212.43 411.22,204.10 420.14,204.10 420.14,199.93 446.90,199.93 446.90,195.77 469.20,195.77 469.20,191.60 491.50,191.60" fill="none" stroke="#ff7c9c" stroke-width="0.95" stroke-linejoin="miter"/>
<polyline points="357.70,316.60 357.70,241.60 362.16,241.60 362.16,224.93 366.62,220.77 366.62,212.43 384.46,212.43 384.46,208.27 406.76,208.27 406.76,199.93 446.90,199.93 446.90,195.77 455.82,195.77 455.82,191.60 491.50,191.60" fill="none" stroke="#c07af0" stroke-width="0.95" stroke-linejoin="miter"/>
<line x1="357.7" y1="316.6" x2="491.5" y2="191.60000000000002" stroke="#ff6a6a" stroke-width="0.8" />
<line x1="357.09999999999997" y1="316.90000000000003" x2="491.9" y2="316.90000000000003" stroke="#444" stroke-width="1.3" />
<line x1="357.7" y1="316.6" x2="357.7" y2="321.8" stroke="#444" stroke-width="1.2" />
<text x="357.7" y="333.3" font-size="9.6" text-anchor="middle" font-family='"Liberation Serif", serif' fill="#000" font-weight="normal" >0</text>
<line x1="384.46" y1="316.6" x2="384.46" y2="321.8" stroke="#444" stroke-width="1.2" />
<text x="384.46" y="333.3" font-size="9.6" text-anchor="middle" font-family='"Liberation Serif", serif' fill="#000" font-weight="normal" >20</text>
<line x1="411.22" y1="316.6" x2="411.22" y2="321.8" stroke="#444" stroke-width="1.2" />
<text x="411.22" y="333.3" font-size="9.6" text-anchor="middle" font-family='"Liberation Serif", serif' fill="#000" font-weight="normal" >40</text>
<line x1="437.98" y1="316.6" x2="437.98" y2="321.8" stroke="#444" stroke-width="1.2" />
<text x="437.98" y="333.3" font-size="9.6" text-anchor="middle" font-family='"Liberation Serif", serif' fill="#000" font-weight="normal" >60</text>
<line x1="464.74" y1="316.6" x2="464.74" y2="321.8" stroke="#444" stroke-width="1.2" />
<text x="464.74" y="333.3" font-size="9.6" text-anchor="middle" font-family='"Liberation Serif", serif' fill="#000" font-weight="normal" >80</text>
<line x1="491.5" y1="316.6" x2="491.5" y2="321.8" stroke="#444" stroke-width="1.2" />
<text x="491.5" y="333.3" font-size="9.6" text-anchor="middle" font-family='"Liberation Serif", serif' fill="#000" font-weight="normal" >100</text>
<line x1="352.2" y1="316.6" x2="357.7" y2="316.6" stroke="#111" stroke-width="1.5" />
<text x="348.8" y="320.8" font-size="9.6" text-anchor="end" font-family='"Liberation Serif", serif' fill="#000" font-weight="normal" >0</text>
<line x1="352.2" y1="291.6" x2="357.7" y2="291.6" stroke="#111" stroke-width="1.5" />
<text x="348.8" y="295.8" font-size="9.6" text-anchor="end" font-family='"Liberation Serif", serif' fill="#000" font-weight="normal" >20</text>
<line x1="352.2" y1="266.6" x2="357.7" y2="266.6" stroke="#111" stroke-width="1.5" />
<text x="348.8" y="270.8" font-size="9.6" text-anchor="end" font-family='"Liberation Serif", serif' fill="#000" font-weight="normal" >40</text>
<line x1="352.2" y1="241.6" x2="357.7" y2="241.6" stroke="#111" stroke-width="1.5" />
<text x="348.8" y="245.8" font-size="9.6" text-anchor="end" font-family='"Liberation Serif", serif' fill="#000" font-weight="normal" >60</text>
<line x1="352.2" y1="216.6" x2="357.7" y2="216.6" stroke="#111" stroke-width="1.5" />
<text x="348.8" y="220.8" font-size="9.6" text-anchor="end" font-family='"Liberation Serif", serif' fill="#000" font-weight="normal" >80</text>
<line x1="352.2" y1="191.6" x2="357.7" y2="191.6" stroke="#111" stroke-width="1.5" />
<text x="348.8" y="195.8" font-size="9.6" text-anchor="end" font-family='"Liberation Serif", serif' fill="#000" font-weight="normal" >100</text>
<polyline points="357.70,316.60 357.70,191.60 491.50,191.60" fill="none" stroke="#ff4a4a" stroke-width="1.5"/>
<text x="393.0" y="348.3" font-size="9.2" text-anchor="start" font-family='"Liberation Serif", serif' fill="#000" font-weight="normal" textLength="74.5" lengthAdjust="spacingAndGlyphs">100% - Specificity%</text>
<text transform="translate(328.0,247.6) rotate(-90)" font-size="9.2" text-anchor="middle" font-family='"Liberation Serif", serif'>Sensitivity%</text>
<line x1="505.1" y1="199.4" x2="519.1" y2="199.4" stroke="#ff4a4a" stroke-width="1.5" />
<text x="527.2" y="201.7" font-size="8.4" font-family='"Liberation Serif", serif' textLength="77.2" lengthAdjust="spacingAndGlyphs">Combination (AUC=1)</text>
<line x1="505.1" y1="212.3" x2="519.1" y2="212.3" stroke="#ffb6f2" stroke-width="1.1" />
<text x="527.2" y="214.6" font-size="8.4" font-family='"Liberation Serif", serif' textLength="82.6" lengthAdjust="spacingAndGlyphs">L-Proline (AUC=0.7039)</text>
<line x1="505.1" y1="224.9" x2="519.1" y2="224.9" stroke="#c07af0" stroke-width="1.1" />
<text x="527.2" y="227.2" font-size="8.4" font-family='"Liberation Serif", serif' textLength="85.8" lengthAdjust="spacingAndGlyphs">Citric acid (AUC=0.9106)</text>
<line x1="505.1" y1="236.3" x2="519.1" y2="236.3" stroke="#ff7c9c" stroke-width="1.1" />
<text x="527.2" y="238.6" font-size="8.4" font-family='"Liberation Serif", serif' textLength="105.7" lengthAdjust="spacingAndGlyphs">L-Glutamic acid (AUC=0.8722)</text>
<line x1="505.1" y1="248.6" x2="519.1" y2="248.6" stroke="#ffa868" stroke-width="1.1" />
<text x="527.2" y="250.9" font-size="8.4" font-family='"Liberation Serif", serif' textLength="127.7" lengthAdjust="spacingAndGlyphs">2-Hydroxybutyric acid (AUC=0.6356)</text>
<line x1="505.1" y1="260.5" x2="519.1" y2="260.5" stroke="#5ee6b4" stroke-width="1.1" />
<text x="527.2" y="262.8" font-size="8.4" font-family='"Liberation Serif", serif' textLength="89.4" lengthAdjust="spacingAndGlyphs">L-Histidine (AUC=0.8278)</text>
<line x1="505.1" y1="271.5" x2="519.1" y2="271.5" stroke="#6ea6f5" stroke-width="1.1" />
<text x="527.2" y="273.8" font-size="8.4" font-family='"Liberation Serif", serif' textLength="127.7" lengthAdjust="spacingAndGlyphs">3-Hydroxybutyric acid (AUC=0.7094)</text>
<line x1="505.1" y1="284.0" x2="519.1" y2="284.0" stroke="#ffee3a" stroke-width="1.1" />
<text x="527.2" y="286.3" font-size="8.4" font-family='"Liberation Serif", serif' textLength="137.7" lengthAdjust="spacingAndGlyphs">Valproic acid glucuronide (AUC=0.7211)</text>
<line x1="505.1" y1="297.5" x2="519.1" y2="297.5" stroke="#c8c040" stroke-width="1.1" />
<text x="527.2" y="299.8" font-size="8.4" font-family='"Liberation Serif", serif' textLength="77.5" lengthAdjust="spacingAndGlyphs">Cortisol (AUC=0.8056)</text>
<line x1="505.1" y1="308.6" x2="519.1" y2="308.6" stroke="#46a6c6" stroke-width="1.1" />
<text x="527.2" y="310.9" font-size="8.4" font-family='"Liberation Serif", serif' textLength="157.5" lengthAdjust="spacingAndGlyphs">Dehydroepiandrosterone sulfate (AUC=0.7667)</text>
</svg>
</body></html>
